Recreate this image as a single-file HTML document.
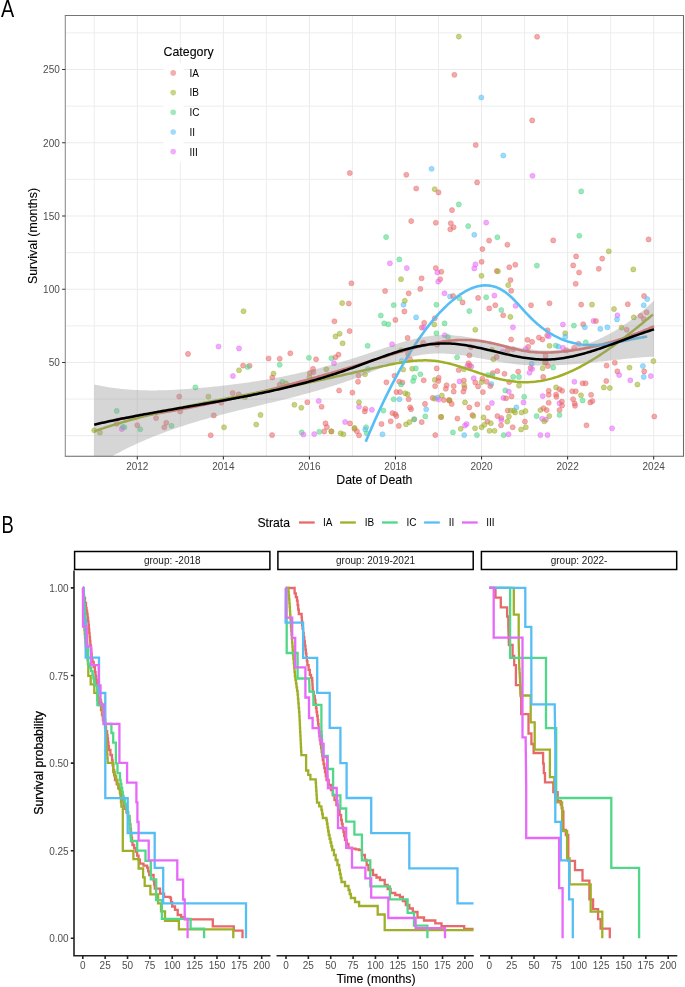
<!DOCTYPE html>
<html><head><meta charset="utf-8"><style>
html,body{margin:0;padding:0;background:#fff;overflow:hidden;width:685px;height:987px}
svg{display:block;will-change:transform}
.t{stroke:#000;stroke-width:0.1px}
.tr{stroke:#000;stroke-width:0.28px}
</style></head><body>
<svg width="685" height="987" viewBox="0 0 685 987" font-family="Liberation Sans, sans-serif"><rect width="685" height="987" fill="#fff"/><rect x="65.3" y="15.5" width="618.2" height="440.8" fill="#fff"/><path d="M94.27 15.5V456.3M180.33 15.5V456.3M266.39 15.5V456.3M352.45 15.5V456.3M438.51 15.5V456.3M524.57 15.5V456.3M610.63 15.5V456.3M65.3 399.06H683.5M65.3 325.84H683.5M65.3 252.61H683.5M65.3 179.38H683.5M65.3 106.15H683.5M65.3 32.92H683.5" stroke="#ededed" stroke-width="1" fill="none"/><path d="M137.30 15.5V456.3M223.36 15.5V456.3M309.42 15.5V456.3M395.48 15.5V456.3M481.54 15.5V456.3M567.60 15.5V456.3M653.66 15.5V456.3M65.3 435.68H683.5M65.3 362.45H683.5M65.3 289.22H683.5M65.3 215.99H683.5M65.3 142.76H683.5M65.3 69.53H683.5" stroke="#ebebeb" stroke-width="1" fill="none"/><rect x="163.5" y="63" width="20" height="99" fill="#fff"/><defs><clipPath id="cpA"><rect x="65.3" y="15.5" width="618.2" height="440.8"/></clipPath></defs><g clip-path="url(#cpA)"><circle cx="218.5" cy="346.5" r="2.55" fill="#E669FA" fill-opacity="0.57" stroke="#E669FA" stroke-opacity="0.57" stroke-width="0.7"/><circle cx="188.0" cy="353.9" r="2.55" fill="#E86969" fill-opacity="0.57" stroke="#E86969" stroke-opacity="0.57" stroke-width="0.7"/><circle cx="195.4" cy="387.4" r="2.55" fill="#50D787" fill-opacity="0.57" stroke="#50D787" stroke-opacity="0.57" stroke-width="0.7"/><circle cx="208.4" cy="396.6" r="2.55" fill="#A0AF28" fill-opacity="0.57" stroke="#A0AF28" stroke-opacity="0.57" stroke-width="0.7"/><circle cx="179.2" cy="396.6" r="2.55" fill="#E86969" fill-opacity="0.57" stroke="#E86969" stroke-opacity="0.57" stroke-width="0.7"/><circle cx="116.7" cy="410.9" r="2.55" fill="#50D787" fill-opacity="0.57" stroke="#50D787" stroke-opacity="0.57" stroke-width="0.7"/><circle cx="221.3" cy="402.7" r="2.55" fill="#E86969" fill-opacity="0.57" stroke="#E86969" stroke-opacity="0.57" stroke-width="0.7"/><circle cx="180.2" cy="411.5" r="2.55" fill="#E86969" fill-opacity="0.57" stroke="#E86969" stroke-opacity="0.57" stroke-width="0.7"/><circle cx="156.1" cy="418.1" r="2.55" fill="#E86969" fill-opacity="0.57" stroke="#E86969" stroke-opacity="0.57" stroke-width="0.7"/><circle cx="213.8" cy="415.4" r="2.55" fill="#E86969" fill-opacity="0.57" stroke="#E86969" stroke-opacity="0.57" stroke-width="0.7"/><circle cx="166.3" cy="422.8" r="2.55" fill="#E86969" fill-opacity="0.57" stroke="#E86969" stroke-opacity="0.57" stroke-width="0.7"/><circle cx="164.3" cy="427.3" r="2.55" fill="#E86969" fill-opacity="0.57" stroke="#E86969" stroke-opacity="0.57" stroke-width="0.7"/><circle cx="171.5" cy="425.8" r="2.55" fill="#50D787" fill-opacity="0.57" stroke="#50D787" stroke-opacity="0.57" stroke-width="0.7"/><circle cx="137.3" cy="425.2" r="2.55" fill="#E86969" fill-opacity="0.57" stroke="#E86969" stroke-opacity="0.57" stroke-width="0.7"/><circle cx="140.2" cy="429.3" r="2.55" fill="#50D787" fill-opacity="0.57" stroke="#50D787" stroke-opacity="0.57" stroke-width="0.7"/><circle cx="122.8" cy="426.9" r="2.55" fill="#50D787" fill-opacity="0.57" stroke="#50D787" stroke-opacity="0.57" stroke-width="0.7"/><circle cx="124.4" cy="427.3" r="2.55" fill="#50D787" fill-opacity="0.57" stroke="#50D787" stroke-opacity="0.57" stroke-width="0.7"/><circle cx="121.8" cy="429.1" r="2.55" fill="#E669FA" fill-opacity="0.57" stroke="#E669FA" stroke-opacity="0.57" stroke-width="0.7"/><circle cx="116.7" cy="423.8" r="2.55" fill="#E86969" fill-opacity="0.57" stroke="#E86969" stroke-opacity="0.57" stroke-width="0.7"/><circle cx="94.2" cy="430.3" r="2.55" fill="#A0AF28" fill-opacity="0.57" stroke="#A0AF28" stroke-opacity="0.57" stroke-width="0.7"/><circle cx="99.9" cy="432.6" r="2.55" fill="#A0AF28" fill-opacity="0.57" stroke="#A0AF28" stroke-opacity="0.57" stroke-width="0.7"/><circle cx="210.7" cy="435.2" r="2.55" fill="#E86969" fill-opacity="0.57" stroke="#E86969" stroke-opacity="0.57" stroke-width="0.7"/><circle cx="224.0" cy="427.3" r="2.55" fill="#A0AF28" fill-opacity="0.57" stroke="#A0AF28" stroke-opacity="0.57" stroke-width="0.7"/><circle cx="342.2" cy="303.1" r="2.55" fill="#A0AF28" fill-opacity="0.57" stroke="#A0AF28" stroke-opacity="0.57" stroke-width="0.7"/><circle cx="348.8" cy="303.5" r="2.55" fill="#E86969" fill-opacity="0.57" stroke="#E86969" stroke-opacity="0.57" stroke-width="0.7"/><circle cx="243.5" cy="311.2" r="2.55" fill="#A0AF28" fill-opacity="0.57" stroke="#A0AF28" stroke-opacity="0.57" stroke-width="0.7"/><circle cx="334.4" cy="321.3" r="2.55" fill="#E86969" fill-opacity="0.57" stroke="#E86969" stroke-opacity="0.57" stroke-width="0.7"/><circle cx="349.6" cy="331.1" r="2.55" fill="#E86969" fill-opacity="0.57" stroke="#E86969" stroke-opacity="0.57" stroke-width="0.7"/><circle cx="339.6" cy="333.7" r="2.55" fill="#A0AF28" fill-opacity="0.57" stroke="#A0AF28" stroke-opacity="0.57" stroke-width="0.7"/><circle cx="335.5" cy="336.4" r="2.55" fill="#A0AF28" fill-opacity="0.57" stroke="#A0AF28" stroke-opacity="0.57" stroke-width="0.7"/><circle cx="342.6" cy="343.3" r="2.55" fill="#A0AF28" fill-opacity="0.57" stroke="#A0AF28" stroke-opacity="0.57" stroke-width="0.7"/><circle cx="239.0" cy="348.4" r="2.55" fill="#E669FA" fill-opacity="0.57" stroke="#E669FA" stroke-opacity="0.57" stroke-width="0.7"/><circle cx="290.3" cy="353.3" r="2.55" fill="#E86969" fill-opacity="0.57" stroke="#E86969" stroke-opacity="0.57" stroke-width="0.7"/><circle cx="268.6" cy="358.5" r="2.55" fill="#E86969" fill-opacity="0.57" stroke="#E86969" stroke-opacity="0.57" stroke-width="0.7"/><circle cx="279.7" cy="358.7" r="2.55" fill="#E86969" fill-opacity="0.57" stroke="#E86969" stroke-opacity="0.57" stroke-width="0.7"/><circle cx="308.9" cy="357.8" r="2.55" fill="#50D787" fill-opacity="0.57" stroke="#50D787" stroke-opacity="0.57" stroke-width="0.7"/><circle cx="316.1" cy="359.3" r="2.55" fill="#E86969" fill-opacity="0.57" stroke="#E86969" stroke-opacity="0.57" stroke-width="0.7"/><circle cx="331.4" cy="358.2" r="2.55" fill="#50D787" fill-opacity="0.57" stroke="#50D787" stroke-opacity="0.57" stroke-width="0.7"/><circle cx="335.5" cy="357.2" r="2.55" fill="#E86969" fill-opacity="0.57" stroke="#E86969" stroke-opacity="0.57" stroke-width="0.7"/><circle cx="338.5" cy="354.6" r="2.55" fill="#E86969" fill-opacity="0.57" stroke="#E86969" stroke-opacity="0.57" stroke-width="0.7"/><circle cx="334.0" cy="363.2" r="2.55" fill="#E669FA" fill-opacity="0.57" stroke="#E669FA" stroke-opacity="0.57" stroke-width="0.7"/><circle cx="243.1" cy="365.6" r="2.55" fill="#E86969" fill-opacity="0.57" stroke="#E86969" stroke-opacity="0.57" stroke-width="0.7"/><circle cx="249.6" cy="365.8" r="2.55" fill="#E86969" fill-opacity="0.57" stroke="#E86969" stroke-opacity="0.57" stroke-width="0.7"/><circle cx="247.6" cy="367.0" r="2.55" fill="#50D787" fill-opacity="0.57" stroke="#50D787" stroke-opacity="0.57" stroke-width="0.7"/><circle cx="279.7" cy="364.8" r="2.55" fill="#50D787" fill-opacity="0.57" stroke="#50D787" stroke-opacity="0.57" stroke-width="0.7"/><circle cx="239.0" cy="370.3" r="2.55" fill="#A0AF28" fill-opacity="0.57" stroke="#A0AF28" stroke-opacity="0.57" stroke-width="0.7"/><circle cx="326.3" cy="369.3" r="2.55" fill="#A0AF28" fill-opacity="0.57" stroke="#A0AF28" stroke-opacity="0.57" stroke-width="0.7"/><circle cx="313.0" cy="368.9" r="2.55" fill="#E86969" fill-opacity="0.57" stroke="#E86969" stroke-opacity="0.57" stroke-width="0.7"/><circle cx="309.9" cy="373.0" r="2.55" fill="#E86969" fill-opacity="0.57" stroke="#E86969" stroke-opacity="0.57" stroke-width="0.7"/><circle cx="313.4" cy="372.1" r="2.55" fill="#E86969" fill-opacity="0.57" stroke="#E86969" stroke-opacity="0.57" stroke-width="0.7"/><circle cx="232.9" cy="376.0" r="2.55" fill="#E669FA" fill-opacity="0.57" stroke="#E669FA" stroke-opacity="0.57" stroke-width="0.7"/><circle cx="273.5" cy="373.6" r="2.55" fill="#A0AF28" fill-opacity="0.57" stroke="#A0AF28" stroke-opacity="0.57" stroke-width="0.7"/><circle cx="272.3" cy="377.5" r="2.55" fill="#E86969" fill-opacity="0.57" stroke="#E86969" stroke-opacity="0.57" stroke-width="0.7"/><circle cx="309.5" cy="377.0" r="2.55" fill="#A0AF28" fill-opacity="0.57" stroke="#A0AF28" stroke-opacity="0.57" stroke-width="0.7"/><circle cx="282.3" cy="381.7" r="2.55" fill="#50D787" fill-opacity="0.57" stroke="#50D787" stroke-opacity="0.57" stroke-width="0.7"/><circle cx="286.0" cy="383.4" r="2.55" fill="#A0AF28" fill-opacity="0.57" stroke="#A0AF28" stroke-opacity="0.57" stroke-width="0.7"/><circle cx="279.7" cy="384.8" r="2.55" fill="#E86969" fill-opacity="0.57" stroke="#E86969" stroke-opacity="0.57" stroke-width="0.7"/><circle cx="232.7" cy="393.0" r="2.55" fill="#E86969" fill-opacity="0.57" stroke="#E86969" stroke-opacity="0.57" stroke-width="0.7"/><circle cx="238.8" cy="394.4" r="2.55" fill="#E86969" fill-opacity="0.57" stroke="#E86969" stroke-opacity="0.57" stroke-width="0.7"/><circle cx="244.9" cy="397.3" r="2.55" fill="#A0AF28" fill-opacity="0.57" stroke="#A0AF28" stroke-opacity="0.57" stroke-width="0.7"/><circle cx="339.1" cy="390.5" r="2.55" fill="#E86969" fill-opacity="0.57" stroke="#E86969" stroke-opacity="0.57" stroke-width="0.7"/><circle cx="352.4" cy="392.6" r="2.55" fill="#E86969" fill-opacity="0.57" stroke="#E86969" stroke-opacity="0.57" stroke-width="0.7"/><circle cx="358.0" cy="381.7" r="2.55" fill="#E86969" fill-opacity="0.57" stroke="#E86969" stroke-opacity="0.57" stroke-width="0.7"/><circle cx="358.6" cy="375.6" r="2.55" fill="#E86969" fill-opacity="0.57" stroke="#E86969" stroke-opacity="0.57" stroke-width="0.7"/><circle cx="318.7" cy="401.0" r="2.55" fill="#E669FA" fill-opacity="0.57" stroke="#E669FA" stroke-opacity="0.57" stroke-width="0.7"/><circle cx="307.3" cy="402.2" r="2.55" fill="#E86969" fill-opacity="0.57" stroke="#E86969" stroke-opacity="0.57" stroke-width="0.7"/><circle cx="321.6" cy="406.7" r="2.55" fill="#E86969" fill-opacity="0.57" stroke="#E86969" stroke-opacity="0.57" stroke-width="0.7"/><circle cx="294.4" cy="404.8" r="2.55" fill="#A0AF28" fill-opacity="0.57" stroke="#A0AF28" stroke-opacity="0.57" stroke-width="0.7"/><circle cx="301.3" cy="407.7" r="2.55" fill="#A0AF28" fill-opacity="0.57" stroke="#A0AF28" stroke-opacity="0.57" stroke-width="0.7"/><circle cx="359.0" cy="406.7" r="2.55" fill="#E669FA" fill-opacity="0.57" stroke="#E669FA" stroke-opacity="0.57" stroke-width="0.7"/><circle cx="359.0" cy="402.2" r="2.55" fill="#A0AF28" fill-opacity="0.57" stroke="#A0AF28" stroke-opacity="0.57" stroke-width="0.7"/><circle cx="260.5" cy="414.9" r="2.55" fill="#A0AF28" fill-opacity="0.57" stroke="#A0AF28" stroke-opacity="0.57" stroke-width="0.7"/><circle cx="256.2" cy="424.5" r="2.55" fill="#A0AF28" fill-opacity="0.57" stroke="#A0AF28" stroke-opacity="0.57" stroke-width="0.7"/><circle cx="325.5" cy="423.4" r="2.55" fill="#E86969" fill-opacity="0.57" stroke="#E86969" stroke-opacity="0.57" stroke-width="0.7"/><circle cx="326.9" cy="427.1" r="2.55" fill="#E86969" fill-opacity="0.57" stroke="#E86969" stroke-opacity="0.57" stroke-width="0.7"/><circle cx="345.1" cy="422.0" r="2.55" fill="#E669FA" fill-opacity="0.57" stroke="#E669FA" stroke-opacity="0.57" stroke-width="0.7"/><circle cx="350.0" cy="423.4" r="2.55" fill="#E86969" fill-opacity="0.57" stroke="#E86969" stroke-opacity="0.57" stroke-width="0.7"/><circle cx="354.5" cy="428.8" r="2.55" fill="#E86969" fill-opacity="0.57" stroke="#E86969" stroke-opacity="0.57" stroke-width="0.7"/><circle cx="356.9" cy="431.2" r="2.55" fill="#E86969" fill-opacity="0.57" stroke="#E86969" stroke-opacity="0.57" stroke-width="0.7"/><circle cx="354.5" cy="427.9" r="2.55" fill="#A0AF28" fill-opacity="0.57" stroke="#A0AF28" stroke-opacity="0.57" stroke-width="0.7"/><circle cx="324.2" cy="431.4" r="2.55" fill="#E86969" fill-opacity="0.57" stroke="#E86969" stroke-opacity="0.57" stroke-width="0.7"/><circle cx="331.4" cy="431.4" r="2.55" fill="#E86969" fill-opacity="0.57" stroke="#E86969" stroke-opacity="0.57" stroke-width="0.7"/><circle cx="331.4" cy="431.4" r="2.55" fill="#A0AF28" fill-opacity="0.57" stroke="#A0AF28" stroke-opacity="0.57" stroke-width="0.7"/><circle cx="301.7" cy="432.4" r="2.55" fill="#50D787" fill-opacity="0.57" stroke="#50D787" stroke-opacity="0.57" stroke-width="0.7"/><circle cx="303.4" cy="434.5" r="2.55" fill="#E669FA" fill-opacity="0.57" stroke="#E669FA" stroke-opacity="0.57" stroke-width="0.7"/><circle cx="314.2" cy="434.1" r="2.55" fill="#E669FA" fill-opacity="0.57" stroke="#E669FA" stroke-opacity="0.57" stroke-width="0.7"/><circle cx="319.3" cy="431.8" r="2.55" fill="#50D787" fill-opacity="0.57" stroke="#50D787" stroke-opacity="0.57" stroke-width="0.7"/><circle cx="340.6" cy="433.3" r="2.55" fill="#A0AF28" fill-opacity="0.57" stroke="#A0AF28" stroke-opacity="0.57" stroke-width="0.7"/><circle cx="343.4" cy="434.3" r="2.55" fill="#A0AF28" fill-opacity="0.57" stroke="#A0AF28" stroke-opacity="0.57" stroke-width="0.7"/><circle cx="272.1" cy="435.1" r="2.55" fill="#E86969" fill-opacity="0.57" stroke="#E86969" stroke-opacity="0.57" stroke-width="0.7"/><circle cx="359.0" cy="435.3" r="2.55" fill="#E86969" fill-opacity="0.57" stroke="#E86969" stroke-opacity="0.57" stroke-width="0.7"/><circle cx="393.7" cy="305.1" r="2.55" fill="#50D787" fill-opacity="0.57" stroke="#50D787" stroke-opacity="0.57" stroke-width="0.7"/><circle cx="403.5" cy="304.7" r="2.55" fill="#55BEF5" fill-opacity="0.57" stroke="#55BEF5" stroke-opacity="0.57" stroke-width="0.7"/><circle cx="404.8" cy="300.8" r="2.55" fill="#A0AF28" fill-opacity="0.57" stroke="#A0AF28" stroke-opacity="0.57" stroke-width="0.7"/><circle cx="404.4" cy="311.4" r="2.55" fill="#E86969" fill-opacity="0.57" stroke="#E86969" stroke-opacity="0.57" stroke-width="0.7"/><circle cx="436.4" cy="304.7" r="2.55" fill="#50D787" fill-opacity="0.57" stroke="#50D787" stroke-opacity="0.57" stroke-width="0.7"/><circle cx="380.8" cy="315.5" r="2.55" fill="#50D787" fill-opacity="0.57" stroke="#50D787" stroke-opacity="0.57" stroke-width="0.7"/><circle cx="416.1" cy="317.4" r="2.55" fill="#55BEF5" fill-opacity="0.57" stroke="#55BEF5" stroke-opacity="0.57" stroke-width="0.7"/><circle cx="434.8" cy="318.2" r="2.55" fill="#E86969" fill-opacity="0.57" stroke="#E86969" stroke-opacity="0.57" stroke-width="0.7"/><circle cx="395.4" cy="319.9" r="2.55" fill="#E86969" fill-opacity="0.57" stroke="#E86969" stroke-opacity="0.57" stroke-width="0.7"/><circle cx="384.2" cy="323.4" r="2.55" fill="#50D787" fill-opacity="0.57" stroke="#50D787" stroke-opacity="0.57" stroke-width="0.7"/><circle cx="388.3" cy="324.2" r="2.55" fill="#50D787" fill-opacity="0.57" stroke="#50D787" stroke-opacity="0.57" stroke-width="0.7"/><circle cx="424.2" cy="322.9" r="2.55" fill="#E86969" fill-opacity="0.57" stroke="#E86969" stroke-opacity="0.57" stroke-width="0.7"/><circle cx="444.6" cy="323.4" r="2.55" fill="#50D787" fill-opacity="0.57" stroke="#50D787" stroke-opacity="0.57" stroke-width="0.7"/><circle cx="421.8" cy="327.6" r="2.55" fill="#E86969" fill-opacity="0.57" stroke="#E86969" stroke-opacity="0.57" stroke-width="0.7"/><circle cx="424.0" cy="327.6" r="2.55" fill="#E669FA" fill-opacity="0.57" stroke="#E669FA" stroke-opacity="0.57" stroke-width="0.7"/><circle cx="434.3" cy="324.5" r="2.55" fill="#A0AF28" fill-opacity="0.57" stroke="#A0AF28" stroke-opacity="0.57" stroke-width="0.7"/><circle cx="436.4" cy="333.2" r="2.55" fill="#50D787" fill-opacity="0.57" stroke="#50D787" stroke-opacity="0.57" stroke-width="0.7"/><circle cx="444.7" cy="335.2" r="2.55" fill="#E669FA" fill-opacity="0.57" stroke="#E669FA" stroke-opacity="0.57" stroke-width="0.7"/><circle cx="447.9" cy="336.8" r="2.55" fill="#50D787" fill-opacity="0.57" stroke="#50D787" stroke-opacity="0.57" stroke-width="0.7"/><circle cx="407.6" cy="337.9" r="2.55" fill="#E86969" fill-opacity="0.57" stroke="#E86969" stroke-opacity="0.57" stroke-width="0.7"/><circle cx="367.6" cy="345.8" r="2.55" fill="#50D787" fill-opacity="0.57" stroke="#50D787" stroke-opacity="0.57" stroke-width="0.7"/><circle cx="392.1" cy="344.2" r="2.55" fill="#E669FA" fill-opacity="0.57" stroke="#E669FA" stroke-opacity="0.57" stroke-width="0.7"/><circle cx="423.2" cy="342.7" r="2.55" fill="#E86969" fill-opacity="0.57" stroke="#E86969" stroke-opacity="0.57" stroke-width="0.7"/><circle cx="437.1" cy="344.7" r="2.55" fill="#E86969" fill-opacity="0.57" stroke="#E86969" stroke-opacity="0.57" stroke-width="0.7"/><circle cx="401.1" cy="350.2" r="2.55" fill="#A0AF28" fill-opacity="0.57" stroke="#A0AF28" stroke-opacity="0.57" stroke-width="0.7"/><circle cx="407.9" cy="353.7" r="2.55" fill="#E86969" fill-opacity="0.57" stroke="#E86969" stroke-opacity="0.57" stroke-width="0.7"/><circle cx="410.0" cy="359.2" r="2.55" fill="#E86969" fill-opacity="0.57" stroke="#E86969" stroke-opacity="0.57" stroke-width="0.7"/><circle cx="401.8" cy="361.1" r="2.55" fill="#55BEF5" fill-opacity="0.57" stroke="#55BEF5" stroke-opacity="0.57" stroke-width="0.7"/><circle cx="368.0" cy="369.0" r="2.55" fill="#50D787" fill-opacity="0.57" stroke="#50D787" stroke-opacity="0.57" stroke-width="0.7"/><circle cx="365.0" cy="374.2" r="2.55" fill="#A0AF28" fill-opacity="0.57" stroke="#A0AF28" stroke-opacity="0.57" stroke-width="0.7"/><circle cx="403.2" cy="369.5" r="2.55" fill="#A0AF28" fill-opacity="0.57" stroke="#A0AF28" stroke-opacity="0.57" stroke-width="0.7"/><circle cx="412.2" cy="368.7" r="2.55" fill="#A0AF28" fill-opacity="0.57" stroke="#A0AF28" stroke-opacity="0.57" stroke-width="0.7"/><circle cx="415.8" cy="368.4" r="2.55" fill="#50D787" fill-opacity="0.57" stroke="#50D787" stroke-opacity="0.57" stroke-width="0.7"/><circle cx="420.4" cy="374.2" r="2.55" fill="#50D787" fill-opacity="0.57" stroke="#50D787" stroke-opacity="0.57" stroke-width="0.7"/><circle cx="436.7" cy="368.4" r="2.55" fill="#E86969" fill-opacity="0.57" stroke="#E86969" stroke-opacity="0.57" stroke-width="0.7"/><circle cx="414.2" cy="377.4" r="2.55" fill="#50D787" fill-opacity="0.57" stroke="#50D787" stroke-opacity="0.57" stroke-width="0.7"/><circle cx="413.1" cy="381.0" r="2.55" fill="#50D787" fill-opacity="0.57" stroke="#50D787" stroke-opacity="0.57" stroke-width="0.7"/><circle cx="394.5" cy="375.8" r="2.55" fill="#E86969" fill-opacity="0.57" stroke="#E86969" stroke-opacity="0.57" stroke-width="0.7"/><circle cx="386.4" cy="382.3" r="2.55" fill="#E86969" fill-opacity="0.57" stroke="#E86969" stroke-opacity="0.57" stroke-width="0.7"/><circle cx="399.2" cy="381.7" r="2.55" fill="#E86969" fill-opacity="0.57" stroke="#E86969" stroke-opacity="0.57" stroke-width="0.7"/><circle cx="402.4" cy="382.5" r="2.55" fill="#E86969" fill-opacity="0.57" stroke="#E86969" stroke-opacity="0.57" stroke-width="0.7"/><circle cx="401.1" cy="384.5" r="2.55" fill="#50D787" fill-opacity="0.57" stroke="#50D787" stroke-opacity="0.57" stroke-width="0.7"/><circle cx="423.7" cy="380.3" r="2.55" fill="#E86969" fill-opacity="0.57" stroke="#E86969" stroke-opacity="0.57" stroke-width="0.7"/><circle cx="434.8" cy="379.8" r="2.55" fill="#A0AF28" fill-opacity="0.57" stroke="#A0AF28" stroke-opacity="0.57" stroke-width="0.7"/><circle cx="438.7" cy="377.7" r="2.55" fill="#E86969" fill-opacity="0.57" stroke="#E86969" stroke-opacity="0.57" stroke-width="0.7"/><circle cx="438.3" cy="381.0" r="2.55" fill="#E86969" fill-opacity="0.57" stroke="#E86969" stroke-opacity="0.57" stroke-width="0.7"/><circle cx="435.1" cy="386.1" r="2.55" fill="#E86969" fill-opacity="0.57" stroke="#E86969" stroke-opacity="0.57" stroke-width="0.7"/><circle cx="446.6" cy="385.3" r="2.55" fill="#E86969" fill-opacity="0.57" stroke="#E86969" stroke-opacity="0.57" stroke-width="0.7"/><circle cx="445.8" cy="388.8" r="2.55" fill="#E86969" fill-opacity="0.57" stroke="#E86969" stroke-opacity="0.57" stroke-width="0.7"/><circle cx="453.7" cy="386.1" r="2.55" fill="#E86969" fill-opacity="0.57" stroke="#E86969" stroke-opacity="0.57" stroke-width="0.7"/><circle cx="453.7" cy="391.6" r="2.55" fill="#E86969" fill-opacity="0.57" stroke="#E86969" stroke-opacity="0.57" stroke-width="0.7"/><circle cx="396.4" cy="392.1" r="2.55" fill="#E86969" fill-opacity="0.57" stroke="#E86969" stroke-opacity="0.57" stroke-width="0.7"/><circle cx="400.0" cy="392.1" r="2.55" fill="#E86969" fill-opacity="0.57" stroke="#E86969" stroke-opacity="0.57" stroke-width="0.7"/><circle cx="405.2" cy="393.2" r="2.55" fill="#A0AF28" fill-opacity="0.57" stroke="#A0AF28" stroke-opacity="0.57" stroke-width="0.7"/><circle cx="407.6" cy="394.3" r="2.55" fill="#A0AF28" fill-opacity="0.57" stroke="#A0AF28" stroke-opacity="0.57" stroke-width="0.7"/><circle cx="393.7" cy="399.2" r="2.55" fill="#50D787" fill-opacity="0.57" stroke="#50D787" stroke-opacity="0.57" stroke-width="0.7"/><circle cx="399.4" cy="399.2" r="2.55" fill="#55BEF5" fill-opacity="0.57" stroke="#55BEF5" stroke-opacity="0.57" stroke-width="0.7"/><circle cx="408.7" cy="399.2" r="2.55" fill="#E86969" fill-opacity="0.57" stroke="#E86969" stroke-opacity="0.57" stroke-width="0.7"/><circle cx="432.7" cy="397.9" r="2.55" fill="#E86969" fill-opacity="0.57" stroke="#E86969" stroke-opacity="0.57" stroke-width="0.7"/><circle cx="434.8" cy="398.7" r="2.55" fill="#A0AF28" fill-opacity="0.57" stroke="#A0AF28" stroke-opacity="0.57" stroke-width="0.7"/><circle cx="437.5" cy="397.6" r="2.55" fill="#55BEF5" fill-opacity="0.57" stroke="#55BEF5" stroke-opacity="0.57" stroke-width="0.7"/><circle cx="438.7" cy="399.5" r="2.55" fill="#E669FA" fill-opacity="0.57" stroke="#E669FA" stroke-opacity="0.57" stroke-width="0.7"/><circle cx="441.9" cy="395.6" r="2.55" fill="#A0AF28" fill-opacity="0.57" stroke="#A0AF28" stroke-opacity="0.57" stroke-width="0.7"/><circle cx="443.9" cy="400.0" r="2.55" fill="#E86969" fill-opacity="0.57" stroke="#E86969" stroke-opacity="0.57" stroke-width="0.7"/><circle cx="449.0" cy="400.0" r="2.55" fill="#E86969" fill-opacity="0.57" stroke="#E86969" stroke-opacity="0.57" stroke-width="0.7"/><circle cx="449.5" cy="400.5" r="2.55" fill="#E86969" fill-opacity="0.57" stroke="#E86969" stroke-opacity="0.57" stroke-width="0.7"/><circle cx="449.5" cy="400.5" r="2.55" fill="#A0AF28" fill-opacity="0.57" stroke="#A0AF28" stroke-opacity="0.57" stroke-width="0.7"/><circle cx="451.7" cy="403.9" r="2.55" fill="#E86969" fill-opacity="0.57" stroke="#E86969" stroke-opacity="0.57" stroke-width="0.7"/><circle cx="365.3" cy="408.7" r="2.55" fill="#E86969" fill-opacity="0.57" stroke="#E86969" stroke-opacity="0.57" stroke-width="0.7"/><circle cx="364.8" cy="411.4" r="2.55" fill="#E86969" fill-opacity="0.57" stroke="#E86969" stroke-opacity="0.57" stroke-width="0.7"/><circle cx="371.9" cy="409.8" r="2.55" fill="#E669FA" fill-opacity="0.57" stroke="#E669FA" stroke-opacity="0.57" stroke-width="0.7"/><circle cx="425.0" cy="403.9" r="2.55" fill="#E86969" fill-opacity="0.57" stroke="#E86969" stroke-opacity="0.57" stroke-width="0.7"/><circle cx="410.1" cy="407.4" r="2.55" fill="#E86969" fill-opacity="0.57" stroke="#E86969" stroke-opacity="0.57" stroke-width="0.7"/><circle cx="411.1" cy="409.3" r="2.55" fill="#E86969" fill-opacity="0.57" stroke="#E86969" stroke-opacity="0.57" stroke-width="0.7"/><circle cx="426.2" cy="409.3" r="2.55" fill="#55BEF5" fill-opacity="0.57" stroke="#55BEF5" stroke-opacity="0.57" stroke-width="0.7"/><circle cx="383.4" cy="410.6" r="2.55" fill="#50D787" fill-opacity="0.57" stroke="#50D787" stroke-opacity="0.57" stroke-width="0.7"/><circle cx="392.4" cy="413.1" r="2.55" fill="#E86969" fill-opacity="0.57" stroke="#E86969" stroke-opacity="0.57" stroke-width="0.7"/><circle cx="395.3" cy="414.1" r="2.55" fill="#E86969" fill-opacity="0.57" stroke="#E86969" stroke-opacity="0.57" stroke-width="0.7"/><circle cx="396.4" cy="416.1" r="2.55" fill="#E86969" fill-opacity="0.57" stroke="#E86969" stroke-opacity="0.57" stroke-width="0.7"/><circle cx="390.7" cy="421.3" r="2.55" fill="#E86969" fill-opacity="0.57" stroke="#E86969" stroke-opacity="0.57" stroke-width="0.7"/><circle cx="425.3" cy="416.4" r="2.55" fill="#50D787" fill-opacity="0.57" stroke="#50D787" stroke-opacity="0.57" stroke-width="0.7"/><circle cx="441.1" cy="416.9" r="2.55" fill="#E86969" fill-opacity="0.57" stroke="#E86969" stroke-opacity="0.57" stroke-width="0.7"/><circle cx="441.1" cy="416.9" r="2.55" fill="#A0AF28" fill-opacity="0.57" stroke="#A0AF28" stroke-opacity="0.57" stroke-width="0.7"/><circle cx="381.5" cy="424.0" r="2.55" fill="#E86969" fill-opacity="0.57" stroke="#E86969" stroke-opacity="0.57" stroke-width="0.7"/><circle cx="398.8" cy="425.9" r="2.55" fill="#E86969" fill-opacity="0.57" stroke="#E86969" stroke-opacity="0.57" stroke-width="0.7"/><circle cx="406.0" cy="424.3" r="2.55" fill="#A0AF28" fill-opacity="0.57" stroke="#A0AF28" stroke-opacity="0.57" stroke-width="0.7"/><circle cx="409.5" cy="422.1" r="2.55" fill="#A0AF28" fill-opacity="0.57" stroke="#A0AF28" stroke-opacity="0.57" stroke-width="0.7"/><circle cx="414.2" cy="419.3" r="2.55" fill="#E86969" fill-opacity="0.57" stroke="#E86969" stroke-opacity="0.57" stroke-width="0.7"/><circle cx="414.2" cy="419.3" r="2.55" fill="#50D787" fill-opacity="0.57" stroke="#50D787" stroke-opacity="0.57" stroke-width="0.7"/><circle cx="421.7" cy="422.1" r="2.55" fill="#E86969" fill-opacity="0.57" stroke="#E86969" stroke-opacity="0.57" stroke-width="0.7"/><circle cx="366.1" cy="427.2" r="2.55" fill="#50D787" fill-opacity="0.57" stroke="#50D787" stroke-opacity="0.57" stroke-width="0.7"/><circle cx="365.3" cy="429.5" r="2.55" fill="#55BEF5" fill-opacity="0.57" stroke="#55BEF5" stroke-opacity="0.57" stroke-width="0.7"/><circle cx="366.8" cy="433.2" r="2.55" fill="#50D787" fill-opacity="0.57" stroke="#50D787" stroke-opacity="0.57" stroke-width="0.7"/><circle cx="382.5" cy="434.3" r="2.55" fill="#55BEF5" fill-opacity="0.57" stroke="#55BEF5" stroke-opacity="0.57" stroke-width="0.7"/><circle cx="435.3" cy="435.1" r="2.55" fill="#E86969" fill-opacity="0.57" stroke="#E86969" stroke-opacity="0.57" stroke-width="0.7"/><circle cx="452.9" cy="432.4" r="2.55" fill="#50D787" fill-opacity="0.57" stroke="#50D787" stroke-opacity="0.57" stroke-width="0.7"/><circle cx="462.6" cy="302.4" r="2.55" fill="#E86969" fill-opacity="0.57" stroke="#E86969" stroke-opacity="0.57" stroke-width="0.7"/><circle cx="469.3" cy="311.1" r="2.55" fill="#50D787" fill-opacity="0.57" stroke="#50D787" stroke-opacity="0.57" stroke-width="0.7"/><circle cx="489.2" cy="308.4" r="2.55" fill="#E86969" fill-opacity="0.57" stroke="#E86969" stroke-opacity="0.57" stroke-width="0.7"/><circle cx="495.3" cy="305.2" r="2.55" fill="#E86969" fill-opacity="0.57" stroke="#E86969" stroke-opacity="0.57" stroke-width="0.7"/><circle cx="501.3" cy="310.0" r="2.55" fill="#50D787" fill-opacity="0.57" stroke="#50D787" stroke-opacity="0.57" stroke-width="0.7"/><circle cx="503.2" cy="315.3" r="2.55" fill="#E86969" fill-opacity="0.57" stroke="#E86969" stroke-opacity="0.57" stroke-width="0.7"/><circle cx="510.3" cy="316.9" r="2.55" fill="#A0AF28" fill-opacity="0.57" stroke="#A0AF28" stroke-opacity="0.57" stroke-width="0.7"/><circle cx="515.6" cy="305.8" r="2.55" fill="#E669FA" fill-opacity="0.57" stroke="#E669FA" stroke-opacity="0.57" stroke-width="0.7"/><circle cx="531.0" cy="305.2" r="2.55" fill="#E86969" fill-opacity="0.57" stroke="#E86969" stroke-opacity="0.57" stroke-width="0.7"/><circle cx="475.3" cy="329.7" r="2.55" fill="#A0AF28" fill-opacity="0.57" stroke="#A0AF28" stroke-opacity="0.57" stroke-width="0.7"/><circle cx="512.9" cy="327.3" r="2.55" fill="#E669FA" fill-opacity="0.57" stroke="#E669FA" stroke-opacity="0.57" stroke-width="0.7"/><circle cx="511.1" cy="339.5" r="2.55" fill="#E86969" fill-opacity="0.57" stroke="#E86969" stroke-opacity="0.57" stroke-width="0.7"/><circle cx="527.4" cy="339.8" r="2.55" fill="#E86969" fill-opacity="0.57" stroke="#E86969" stroke-opacity="0.57" stroke-width="0.7"/><circle cx="532.1" cy="341.9" r="2.55" fill="#E86969" fill-opacity="0.57" stroke="#E86969" stroke-opacity="0.57" stroke-width="0.7"/><circle cx="538.9" cy="337.6" r="2.55" fill="#E86969" fill-opacity="0.57" stroke="#E86969" stroke-opacity="0.57" stroke-width="0.7"/><circle cx="542.4" cy="339.5" r="2.55" fill="#E86969" fill-opacity="0.57" stroke="#E86969" stroke-opacity="0.57" stroke-width="0.7"/><circle cx="547.6" cy="330.3" r="2.55" fill="#E86969" fill-opacity="0.57" stroke="#E86969" stroke-opacity="0.57" stroke-width="0.7"/><circle cx="547.2" cy="335.5" r="2.55" fill="#E86969" fill-opacity="0.57" stroke="#E86969" stroke-opacity="0.57" stroke-width="0.7"/><circle cx="548.7" cy="336.3" r="2.55" fill="#E669FA" fill-opacity="0.57" stroke="#E669FA" stroke-opacity="0.57" stroke-width="0.7"/><circle cx="528.2" cy="346.9" r="2.55" fill="#E86969" fill-opacity="0.57" stroke="#E86969" stroke-opacity="0.57" stroke-width="0.7"/><circle cx="471.0" cy="347.1" r="2.55" fill="#E86969" fill-opacity="0.57" stroke="#E86969" stroke-opacity="0.57" stroke-width="0.7"/><circle cx="469.4" cy="355.3" r="2.55" fill="#E86969" fill-opacity="0.57" stroke="#E86969" stroke-opacity="0.57" stroke-width="0.7"/><circle cx="457.1" cy="357.3" r="2.55" fill="#50D787" fill-opacity="0.57" stroke="#50D787" stroke-opacity="0.57" stroke-width="0.7"/><circle cx="491.9" cy="349.8" r="2.55" fill="#A0AF28" fill-opacity="0.57" stroke="#A0AF28" stroke-opacity="0.57" stroke-width="0.7"/><circle cx="502.6" cy="351.7" r="2.55" fill="#E669FA" fill-opacity="0.57" stroke="#E669FA" stroke-opacity="0.57" stroke-width="0.7"/><circle cx="507.7" cy="350.2" r="2.55" fill="#E86969" fill-opacity="0.57" stroke="#E86969" stroke-opacity="0.57" stroke-width="0.7"/><circle cx="513.2" cy="349.3" r="2.55" fill="#E86969" fill-opacity="0.57" stroke="#E86969" stroke-opacity="0.57" stroke-width="0.7"/><circle cx="525.8" cy="349.0" r="2.55" fill="#E669FA" fill-opacity="0.57" stroke="#E669FA" stroke-opacity="0.57" stroke-width="0.7"/><circle cx="493.4" cy="359.2" r="2.55" fill="#A0AF28" fill-opacity="0.57" stroke="#A0AF28" stroke-opacity="0.57" stroke-width="0.7"/><circle cx="496.6" cy="356.9" r="2.55" fill="#E86969" fill-opacity="0.57" stroke="#E86969" stroke-opacity="0.57" stroke-width="0.7"/><circle cx="545.6" cy="355.8" r="2.55" fill="#E86969" fill-opacity="0.57" stroke="#E86969" stroke-opacity="0.57" stroke-width="0.7"/><circle cx="549.5" cy="345.8" r="2.55" fill="#A0AF28" fill-opacity="0.57" stroke="#A0AF28" stroke-opacity="0.57" stroke-width="0.7"/><circle cx="468.5" cy="363.2" r="2.55" fill="#E86969" fill-opacity="0.57" stroke="#E86969" stroke-opacity="0.57" stroke-width="0.7"/><circle cx="467.4" cy="365.9" r="2.55" fill="#E669FA" fill-opacity="0.57" stroke="#E669FA" stroke-opacity="0.57" stroke-width="0.7"/><circle cx="471.3" cy="366.4" r="2.55" fill="#E669FA" fill-opacity="0.57" stroke="#E669FA" stroke-opacity="0.57" stroke-width="0.7"/><circle cx="458.7" cy="370.0" r="2.55" fill="#E86969" fill-opacity="0.57" stroke="#E86969" stroke-opacity="0.57" stroke-width="0.7"/><circle cx="463.9" cy="369.2" r="2.55" fill="#A0AF28" fill-opacity="0.57" stroke="#A0AF28" stroke-opacity="0.57" stroke-width="0.7"/><circle cx="469.7" cy="365.6" r="2.55" fill="#E86969" fill-opacity="0.57" stroke="#E86969" stroke-opacity="0.57" stroke-width="0.7"/><circle cx="531.7" cy="363.5" r="2.55" fill="#55BEF5" fill-opacity="0.57" stroke="#55BEF5" stroke-opacity="0.57" stroke-width="0.7"/><circle cx="530.6" cy="367.9" r="2.55" fill="#E86969" fill-opacity="0.57" stroke="#E86969" stroke-opacity="0.57" stroke-width="0.7"/><circle cx="532.1" cy="369.0" r="2.55" fill="#E669FA" fill-opacity="0.57" stroke="#E669FA" stroke-opacity="0.57" stroke-width="0.7"/><circle cx="544.8" cy="362.4" r="2.55" fill="#A0AF28" fill-opacity="0.57" stroke="#A0AF28" stroke-opacity="0.57" stroke-width="0.7"/><circle cx="542.7" cy="368.2" r="2.55" fill="#A0AF28" fill-opacity="0.57" stroke="#A0AF28" stroke-opacity="0.57" stroke-width="0.7"/><circle cx="547.9" cy="366.0" r="2.55" fill="#E86969" fill-opacity="0.57" stroke="#E86969" stroke-opacity="0.57" stroke-width="0.7"/><circle cx="529.5" cy="372.7" r="2.55" fill="#E669FA" fill-opacity="0.57" stroke="#E669FA" stroke-opacity="0.57" stroke-width="0.7"/><circle cx="497.4" cy="371.1" r="2.55" fill="#E86969" fill-opacity="0.57" stroke="#E86969" stroke-opacity="0.57" stroke-width="0.7"/><circle cx="492.7" cy="373.1" r="2.55" fill="#E86969" fill-opacity="0.57" stroke="#E86969" stroke-opacity="0.57" stroke-width="0.7"/><circle cx="487.9" cy="375.0" r="2.55" fill="#50D787" fill-opacity="0.57" stroke="#50D787" stroke-opacity="0.57" stroke-width="0.7"/><circle cx="492.3" cy="375.5" r="2.55" fill="#50D787" fill-opacity="0.57" stroke="#50D787" stroke-opacity="0.57" stroke-width="0.7"/><circle cx="504.5" cy="373.8" r="2.55" fill="#E86969" fill-opacity="0.57" stroke="#E86969" stroke-opacity="0.57" stroke-width="0.7"/><circle cx="518.2" cy="371.6" r="2.55" fill="#E86969" fill-opacity="0.57" stroke="#E86969" stroke-opacity="0.57" stroke-width="0.7"/><circle cx="513.2" cy="376.9" r="2.55" fill="#50D787" fill-opacity="0.57" stroke="#50D787" stroke-opacity="0.57" stroke-width="0.7"/><circle cx="519.0" cy="376.9" r="2.55" fill="#50D787" fill-opacity="0.57" stroke="#50D787" stroke-opacity="0.57" stroke-width="0.7"/><circle cx="543.2" cy="376.9" r="2.55" fill="#E86969" fill-opacity="0.57" stroke="#E86969" stroke-opacity="0.57" stroke-width="0.7"/><circle cx="459.5" cy="381.4" r="2.55" fill="#E669FA" fill-opacity="0.57" stroke="#E669FA" stroke-opacity="0.57" stroke-width="0.7"/><circle cx="463.9" cy="380.6" r="2.55" fill="#E86969" fill-opacity="0.57" stroke="#E86969" stroke-opacity="0.57" stroke-width="0.7"/><circle cx="473.7" cy="378.2" r="2.55" fill="#E669FA" fill-opacity="0.57" stroke="#E669FA" stroke-opacity="0.57" stroke-width="0.7"/><circle cx="475.3" cy="382.5" r="2.55" fill="#E86969" fill-opacity="0.57" stroke="#E86969" stroke-opacity="0.57" stroke-width="0.7"/><circle cx="482.4" cy="378.7" r="2.55" fill="#E86969" fill-opacity="0.57" stroke="#E86969" stroke-opacity="0.57" stroke-width="0.7"/><circle cx="481.6" cy="382.1" r="2.55" fill="#A0AF28" fill-opacity="0.57" stroke="#A0AF28" stroke-opacity="0.57" stroke-width="0.7"/><circle cx="486.7" cy="381.8" r="2.55" fill="#E86969" fill-opacity="0.57" stroke="#E86969" stroke-opacity="0.57" stroke-width="0.7"/><circle cx="478.1" cy="386.4" r="2.55" fill="#E86969" fill-opacity="0.57" stroke="#E86969" stroke-opacity="0.57" stroke-width="0.7"/><circle cx="464.2" cy="385.3" r="2.55" fill="#A0AF28" fill-opacity="0.57" stroke="#A0AF28" stroke-opacity="0.57" stroke-width="0.7"/><circle cx="464.5" cy="388.0" r="2.55" fill="#E86969" fill-opacity="0.57" stroke="#E86969" stroke-opacity="0.57" stroke-width="0.7"/><circle cx="463.4" cy="391.6" r="2.55" fill="#E86969" fill-opacity="0.57" stroke="#E86969" stroke-opacity="0.57" stroke-width="0.7"/><circle cx="482.9" cy="392.1" r="2.55" fill="#E86969" fill-opacity="0.57" stroke="#E86969" stroke-opacity="0.57" stroke-width="0.7"/><circle cx="491.4" cy="384.0" r="2.55" fill="#55BEF5" fill-opacity="0.57" stroke="#55BEF5" stroke-opacity="0.57" stroke-width="0.7"/><circle cx="490.3" cy="386.1" r="2.55" fill="#E86969" fill-opacity="0.57" stroke="#E86969" stroke-opacity="0.57" stroke-width="0.7"/><circle cx="509.2" cy="382.1" r="2.55" fill="#E86969" fill-opacity="0.57" stroke="#E86969" stroke-opacity="0.57" stroke-width="0.7"/><circle cx="519.0" cy="385.6" r="2.55" fill="#A0AF28" fill-opacity="0.57" stroke="#A0AF28" stroke-opacity="0.57" stroke-width="0.7"/><circle cx="505.3" cy="390.4" r="2.55" fill="#50D787" fill-opacity="0.57" stroke="#50D787" stroke-opacity="0.57" stroke-width="0.7"/><circle cx="508.8" cy="391.6" r="2.55" fill="#E669FA" fill-opacity="0.57" stroke="#E669FA" stroke-opacity="0.57" stroke-width="0.7"/><circle cx="503.4" cy="397.9" r="2.55" fill="#E669FA" fill-opacity="0.57" stroke="#E669FA" stroke-opacity="0.57" stroke-width="0.7"/><circle cx="506.1" cy="398.3" r="2.55" fill="#E86969" fill-opacity="0.57" stroke="#E86969" stroke-opacity="0.57" stroke-width="0.7"/><circle cx="511.6" cy="396.4" r="2.55" fill="#E86969" fill-opacity="0.57" stroke="#E86969" stroke-opacity="0.57" stroke-width="0.7"/><circle cx="524.2" cy="396.7" r="2.55" fill="#50D787" fill-opacity="0.57" stroke="#50D787" stroke-opacity="0.57" stroke-width="0.7"/><circle cx="542.7" cy="396.1" r="2.55" fill="#E669FA" fill-opacity="0.57" stroke="#E669FA" stroke-opacity="0.57" stroke-width="0.7"/><circle cx="548.7" cy="390.8" r="2.55" fill="#E86969" fill-opacity="0.57" stroke="#E86969" stroke-opacity="0.57" stroke-width="0.7"/><circle cx="548.7" cy="394.8" r="2.55" fill="#E86969" fill-opacity="0.57" stroke="#E86969" stroke-opacity="0.57" stroke-width="0.7"/><circle cx="465.0" cy="402.4" r="2.55" fill="#A0AF28" fill-opacity="0.57" stroke="#A0AF28" stroke-opacity="0.57" stroke-width="0.7"/><circle cx="469.3" cy="407.4" r="2.55" fill="#E86969" fill-opacity="0.57" stroke="#E86969" stroke-opacity="0.57" stroke-width="0.7"/><circle cx="477.3" cy="404.3" r="2.55" fill="#E86969" fill-opacity="0.57" stroke="#E86969" stroke-opacity="0.57" stroke-width="0.7"/><circle cx="491.9" cy="403.0" r="2.55" fill="#E669FA" fill-opacity="0.57" stroke="#E669FA" stroke-opacity="0.57" stroke-width="0.7"/><circle cx="487.9" cy="407.7" r="2.55" fill="#E86969" fill-opacity="0.57" stroke="#E86969" stroke-opacity="0.57" stroke-width="0.7"/><circle cx="523.5" cy="402.4" r="2.55" fill="#E669FA" fill-opacity="0.57" stroke="#E669FA" stroke-opacity="0.57" stroke-width="0.7"/><circle cx="548.7" cy="402.7" r="2.55" fill="#E86969" fill-opacity="0.57" stroke="#E86969" stroke-opacity="0.57" stroke-width="0.7"/><circle cx="507.7" cy="410.6" r="2.55" fill="#E86969" fill-opacity="0.57" stroke="#E86969" stroke-opacity="0.57" stroke-width="0.7"/><circle cx="510.8" cy="410.6" r="2.55" fill="#A0AF28" fill-opacity="0.57" stroke="#A0AF28" stroke-opacity="0.57" stroke-width="0.7"/><circle cx="514.0" cy="410.6" r="2.55" fill="#A0AF28" fill-opacity="0.57" stroke="#A0AF28" stroke-opacity="0.57" stroke-width="0.7"/><circle cx="516.4" cy="407.4" r="2.55" fill="#55BEF5" fill-opacity="0.57" stroke="#55BEF5" stroke-opacity="0.57" stroke-width="0.7"/><circle cx="515.1" cy="412.5" r="2.55" fill="#A0AF28" fill-opacity="0.57" stroke="#A0AF28" stroke-opacity="0.57" stroke-width="0.7"/><circle cx="521.6" cy="412.5" r="2.55" fill="#A0AF28" fill-opacity="0.57" stroke="#A0AF28" stroke-opacity="0.57" stroke-width="0.7"/><circle cx="525.5" cy="411.1" r="2.55" fill="#A0AF28" fill-opacity="0.57" stroke="#A0AF28" stroke-opacity="0.57" stroke-width="0.7"/><circle cx="540.4" cy="410.1" r="2.55" fill="#A0AF28" fill-opacity="0.57" stroke="#A0AF28" stroke-opacity="0.57" stroke-width="0.7"/><circle cx="543.5" cy="408.2" r="2.55" fill="#E86969" fill-opacity="0.57" stroke="#E86969" stroke-opacity="0.57" stroke-width="0.7"/><circle cx="546.7" cy="410.1" r="2.55" fill="#E86969" fill-opacity="0.57" stroke="#E86969" stroke-opacity="0.57" stroke-width="0.7"/><circle cx="549.2" cy="416.1" r="2.55" fill="#A0AF28" fill-opacity="0.57" stroke="#A0AF28" stroke-opacity="0.57" stroke-width="0.7"/><circle cx="536.6" cy="416.1" r="2.55" fill="#50D787" fill-opacity="0.57" stroke="#50D787" stroke-opacity="0.57" stroke-width="0.7"/><circle cx="457.4" cy="418.5" r="2.55" fill="#E86969" fill-opacity="0.57" stroke="#E86969" stroke-opacity="0.57" stroke-width="0.7"/><circle cx="472.4" cy="415.0" r="2.55" fill="#E86969" fill-opacity="0.57" stroke="#E86969" stroke-opacity="0.57" stroke-width="0.7"/><circle cx="473.4" cy="416.1" r="2.55" fill="#A0AF28" fill-opacity="0.57" stroke="#A0AF28" stroke-opacity="0.57" stroke-width="0.7"/><circle cx="483.5" cy="417.4" r="2.55" fill="#A0AF28" fill-opacity="0.57" stroke="#A0AF28" stroke-opacity="0.57" stroke-width="0.7"/><circle cx="487.4" cy="421.6" r="2.55" fill="#E86969" fill-opacity="0.57" stroke="#E86969" stroke-opacity="0.57" stroke-width="0.7"/><circle cx="490.8" cy="423.2" r="2.55" fill="#A0AF28" fill-opacity="0.57" stroke="#A0AF28" stroke-opacity="0.57" stroke-width="0.7"/><circle cx="484.4" cy="424.8" r="2.55" fill="#A0AF28" fill-opacity="0.57" stroke="#A0AF28" stroke-opacity="0.57" stroke-width="0.7"/><circle cx="497.4" cy="416.1" r="2.55" fill="#E86969" fill-opacity="0.57" stroke="#E86969" stroke-opacity="0.57" stroke-width="0.7"/><circle cx="501.3" cy="418.0" r="2.55" fill="#E86969" fill-opacity="0.57" stroke="#E86969" stroke-opacity="0.57" stroke-width="0.7"/><circle cx="501.3" cy="420.1" r="2.55" fill="#E669FA" fill-opacity="0.57" stroke="#E669FA" stroke-opacity="0.57" stroke-width="0.7"/><circle cx="508.9" cy="416.6" r="2.55" fill="#A0AF28" fill-opacity="0.57" stroke="#A0AF28" stroke-opacity="0.57" stroke-width="0.7"/><circle cx="507.3" cy="421.6" r="2.55" fill="#A0AF28" fill-opacity="0.57" stroke="#A0AF28" stroke-opacity="0.57" stroke-width="0.7"/><circle cx="524.9" cy="421.6" r="2.55" fill="#E86969" fill-opacity="0.57" stroke="#E86969" stroke-opacity="0.57" stroke-width="0.7"/><circle cx="542.1" cy="418.8" r="2.55" fill="#E669FA" fill-opacity="0.57" stroke="#E669FA" stroke-opacity="0.57" stroke-width="0.7"/><circle cx="545.9" cy="419.6" r="2.55" fill="#E669FA" fill-opacity="0.57" stroke="#E669FA" stroke-opacity="0.57" stroke-width="0.7"/><circle cx="544.3" cy="421.3" r="2.55" fill="#A0AF28" fill-opacity="0.57" stroke="#A0AF28" stroke-opacity="0.57" stroke-width="0.7"/><circle cx="501.0" cy="425.3" r="2.55" fill="#E86969" fill-opacity="0.57" stroke="#E86969" stroke-opacity="0.57" stroke-width="0.7"/><circle cx="512.7" cy="427.2" r="2.55" fill="#E86969" fill-opacity="0.57" stroke="#E86969" stroke-opacity="0.57" stroke-width="0.7"/><circle cx="521.1" cy="429.5" r="2.55" fill="#A0AF28" fill-opacity="0.57" stroke="#A0AF28" stroke-opacity="0.57" stroke-width="0.7"/><circle cx="525.8" cy="427.2" r="2.55" fill="#A0AF28" fill-opacity="0.57" stroke="#A0AF28" stroke-opacity="0.57" stroke-width="0.7"/><circle cx="465.0" cy="425.6" r="2.55" fill="#E669FA" fill-opacity="0.57" stroke="#E669FA" stroke-opacity="0.57" stroke-width="0.7"/><circle cx="466.6" cy="424.0" r="2.55" fill="#E669FA" fill-opacity="0.57" stroke="#E669FA" stroke-opacity="0.57" stroke-width="0.7"/><circle cx="460.7" cy="428.8" r="2.55" fill="#A0AF28" fill-opacity="0.57" stroke="#A0AF28" stroke-opacity="0.57" stroke-width="0.7"/><circle cx="475.0" cy="428.3" r="2.55" fill="#A0AF28" fill-opacity="0.57" stroke="#A0AF28" stroke-opacity="0.57" stroke-width="0.7"/><circle cx="481.6" cy="427.2" r="2.55" fill="#A0AF28" fill-opacity="0.57" stroke="#A0AF28" stroke-opacity="0.57" stroke-width="0.7"/><circle cx="489.5" cy="430.8" r="2.55" fill="#A0AF28" fill-opacity="0.57" stroke="#A0AF28" stroke-opacity="0.57" stroke-width="0.7"/><circle cx="494.5" cy="430.8" r="2.55" fill="#A0AF28" fill-opacity="0.57" stroke="#A0AF28" stroke-opacity="0.57" stroke-width="0.7"/><circle cx="464.2" cy="435.1" r="2.55" fill="#55BEF5" fill-opacity="0.57" stroke="#55BEF5" stroke-opacity="0.57" stroke-width="0.7"/><circle cx="476.9" cy="435.1" r="2.55" fill="#50D787" fill-opacity="0.57" stroke="#50D787" stroke-opacity="0.57" stroke-width="0.7"/><circle cx="503.7" cy="435.1" r="2.55" fill="#50D787" fill-opacity="0.57" stroke="#50D787" stroke-opacity="0.57" stroke-width="0.7"/><circle cx="508.5" cy="434.3" r="2.55" fill="#E669FA" fill-opacity="0.57" stroke="#E669FA" stroke-opacity="0.57" stroke-width="0.7"/><circle cx="540.4" cy="435.1" r="2.55" fill="#E669FA" fill-opacity="0.57" stroke="#E669FA" stroke-opacity="0.57" stroke-width="0.7"/><circle cx="547.5" cy="435.1" r="2.55" fill="#E669FA" fill-opacity="0.57" stroke="#E669FA" stroke-opacity="0.57" stroke-width="0.7"/><circle cx="431.6" cy="168.8" r="2.55" fill="#55BEF5" fill-opacity="0.57" stroke="#55BEF5" stroke-opacity="0.57" stroke-width="0.7"/><circle cx="406.3" cy="174.8" r="2.55" fill="#E86969" fill-opacity="0.57" stroke="#E86969" stroke-opacity="0.57" stroke-width="0.7"/><circle cx="416.2" cy="188.5" r="2.55" fill="#E86969" fill-opacity="0.57" stroke="#E86969" stroke-opacity="0.57" stroke-width="0.7"/><circle cx="434.7" cy="189.2" r="2.55" fill="#A0AF28" fill-opacity="0.57" stroke="#A0AF28" stroke-opacity="0.57" stroke-width="0.7"/><circle cx="438.5" cy="192.4" r="2.55" fill="#E86969" fill-opacity="0.57" stroke="#E86969" stroke-opacity="0.57" stroke-width="0.7"/><circle cx="452.0" cy="210.1" r="2.55" fill="#E86969" fill-opacity="0.57" stroke="#E86969" stroke-opacity="0.57" stroke-width="0.7"/><circle cx="411.2" cy="221.1" r="2.55" fill="#E86969" fill-opacity="0.57" stroke="#E86969" stroke-opacity="0.57" stroke-width="0.7"/><circle cx="435.8" cy="222.7" r="2.55" fill="#E86969" fill-opacity="0.57" stroke="#E86969" stroke-opacity="0.57" stroke-width="0.7"/><circle cx="450.8" cy="223.3" r="2.55" fill="#E86969" fill-opacity="0.57" stroke="#E86969" stroke-opacity="0.57" stroke-width="0.7"/><circle cx="453.6" cy="227.2" r="2.55" fill="#E86969" fill-opacity="0.57" stroke="#E86969" stroke-opacity="0.57" stroke-width="0.7"/><circle cx="450.3" cy="229.3" r="2.55" fill="#E86969" fill-opacity="0.57" stroke="#E86969" stroke-opacity="0.57" stroke-width="0.7"/><circle cx="386.1" cy="237.1" r="2.55" fill="#50D787" fill-opacity="0.57" stroke="#50D787" stroke-opacity="0.57" stroke-width="0.7"/><circle cx="399.3" cy="259.4" r="2.55" fill="#50D787" fill-opacity="0.57" stroke="#50D787" stroke-opacity="0.57" stroke-width="0.7"/><circle cx="389.9" cy="263.3" r="2.55" fill="#E669FA" fill-opacity="0.57" stroke="#E669FA" stroke-opacity="0.57" stroke-width="0.7"/><circle cx="406.8" cy="268.1" r="2.55" fill="#E669FA" fill-opacity="0.57" stroke="#E669FA" stroke-opacity="0.57" stroke-width="0.7"/><circle cx="435.8" cy="268.1" r="2.55" fill="#E86969" fill-opacity="0.57" stroke="#E86969" stroke-opacity="0.57" stroke-width="0.7"/><circle cx="437.4" cy="272.4" r="2.55" fill="#E669FA" fill-opacity="0.57" stroke="#E669FA" stroke-opacity="0.57" stroke-width="0.7"/><circle cx="441.3" cy="271.7" r="2.55" fill="#E86969" fill-opacity="0.57" stroke="#E86969" stroke-opacity="0.57" stroke-width="0.7"/><circle cx="401.0" cy="279.2" r="2.55" fill="#A0AF28" fill-opacity="0.57" stroke="#A0AF28" stroke-opacity="0.57" stroke-width="0.7"/><circle cx="421.6" cy="278.3" r="2.55" fill="#E86969" fill-opacity="0.57" stroke="#E86969" stroke-opacity="0.57" stroke-width="0.7"/><circle cx="440.2" cy="279.2" r="2.55" fill="#E86969" fill-opacity="0.57" stroke="#E86969" stroke-opacity="0.57" stroke-width="0.7"/><circle cx="438.2" cy="281.6" r="2.55" fill="#E669FA" fill-opacity="0.57" stroke="#E669FA" stroke-opacity="0.57" stroke-width="0.7"/><circle cx="385.1" cy="291.0" r="2.55" fill="#E86969" fill-opacity="0.57" stroke="#E86969" stroke-opacity="0.57" stroke-width="0.7"/><circle cx="420.3" cy="288.9" r="2.55" fill="#E86969" fill-opacity="0.57" stroke="#E86969" stroke-opacity="0.57" stroke-width="0.7"/><circle cx="408.7" cy="293.3" r="2.55" fill="#E86969" fill-opacity="0.57" stroke="#E86969" stroke-opacity="0.57" stroke-width="0.7"/><circle cx="444.5" cy="293.3" r="2.55" fill="#E669FA" fill-opacity="0.57" stroke="#E669FA" stroke-opacity="0.57" stroke-width="0.7"/><circle cx="450.0" cy="296.5" r="2.55" fill="#55BEF5" fill-opacity="0.57" stroke="#55BEF5" stroke-opacity="0.57" stroke-width="0.7"/><circle cx="453.1" cy="296.0" r="2.55" fill="#E86969" fill-opacity="0.57" stroke="#E86969" stroke-opacity="0.57" stroke-width="0.7"/><circle cx="458.8" cy="36.6" r="2.55" fill="#A0AF28" fill-opacity="0.57" stroke="#A0AF28" stroke-opacity="0.57" stroke-width="0.7"/><circle cx="537.1" cy="36.7" r="2.55" fill="#E86969" fill-opacity="0.57" stroke="#E86969" stroke-opacity="0.57" stroke-width="0.7"/><circle cx="454.4" cy="74.8" r="2.55" fill="#E86969" fill-opacity="0.57" stroke="#E86969" stroke-opacity="0.57" stroke-width="0.7"/><circle cx="481.3" cy="97.5" r="2.55" fill="#55BEF5" fill-opacity="0.57" stroke="#55BEF5" stroke-opacity="0.57" stroke-width="0.7"/><circle cx="532.2" cy="120.4" r="2.55" fill="#E86969" fill-opacity="0.57" stroke="#E86969" stroke-opacity="0.57" stroke-width="0.7"/><circle cx="475.7" cy="145.0" r="2.55" fill="#E86969" fill-opacity="0.57" stroke="#E86969" stroke-opacity="0.57" stroke-width="0.7"/><circle cx="503.3" cy="155.5" r="2.55" fill="#55BEF5" fill-opacity="0.57" stroke="#55BEF5" stroke-opacity="0.57" stroke-width="0.7"/><circle cx="532.5" cy="175.8" r="2.55" fill="#E669FA" fill-opacity="0.57" stroke="#E669FA" stroke-opacity="0.57" stroke-width="0.7"/><circle cx="477.1" cy="182.4" r="2.55" fill="#E86969" fill-opacity="0.57" stroke="#E86969" stroke-opacity="0.57" stroke-width="0.7"/><circle cx="458.8" cy="204.4" r="2.55" fill="#50D787" fill-opacity="0.57" stroke="#50D787" stroke-opacity="0.57" stroke-width="0.7"/><circle cx="468.2" cy="226.1" r="2.55" fill="#50D787" fill-opacity="0.57" stroke="#50D787" stroke-opacity="0.57" stroke-width="0.7"/><circle cx="486.2" cy="222.6" r="2.55" fill="#E669FA" fill-opacity="0.57" stroke="#E669FA" stroke-opacity="0.57" stroke-width="0.7"/><circle cx="474.3" cy="234.8" r="2.55" fill="#55BEF5" fill-opacity="0.57" stroke="#55BEF5" stroke-opacity="0.57" stroke-width="0.7"/><circle cx="497.4" cy="237.2" r="2.55" fill="#50D787" fill-opacity="0.57" stroke="#50D787" stroke-opacity="0.57" stroke-width="0.7"/><circle cx="489.1" cy="240.6" r="2.55" fill="#E86969" fill-opacity="0.57" stroke="#E86969" stroke-opacity="0.57" stroke-width="0.7"/><circle cx="507.4" cy="244.7" r="2.55" fill="#E86969" fill-opacity="0.57" stroke="#E86969" stroke-opacity="0.57" stroke-width="0.7"/><circle cx="482.4" cy="249.1" r="2.55" fill="#E86969" fill-opacity="0.57" stroke="#E86969" stroke-opacity="0.57" stroke-width="0.7"/><circle cx="481.6" cy="261.8" r="2.55" fill="#E86969" fill-opacity="0.57" stroke="#E86969" stroke-opacity="0.57" stroke-width="0.7"/><circle cx="475.4" cy="264.4" r="2.55" fill="#E669FA" fill-opacity="0.57" stroke="#E669FA" stroke-opacity="0.57" stroke-width="0.7"/><circle cx="474.3" cy="268.4" r="2.55" fill="#E669FA" fill-opacity="0.57" stroke="#E669FA" stroke-opacity="0.57" stroke-width="0.7"/><circle cx="509.3" cy="267.2" r="2.55" fill="#E86969" fill-opacity="0.57" stroke="#E86969" stroke-opacity="0.57" stroke-width="0.7"/><circle cx="515.3" cy="264.7" r="2.55" fill="#E86969" fill-opacity="0.57" stroke="#E86969" stroke-opacity="0.57" stroke-width="0.7"/><circle cx="496.8" cy="271.0" r="2.55" fill="#E86969" fill-opacity="0.57" stroke="#E86969" stroke-opacity="0.57" stroke-width="0.7"/><circle cx="497.9" cy="271.3" r="2.55" fill="#A0AF28" fill-opacity="0.57" stroke="#A0AF28" stroke-opacity="0.57" stroke-width="0.7"/><circle cx="481.5" cy="275.8" r="2.55" fill="#A0AF28" fill-opacity="0.57" stroke="#A0AF28" stroke-opacity="0.57" stroke-width="0.7"/><circle cx="510.5" cy="280.1" r="2.55" fill="#E86969" fill-opacity="0.57" stroke="#E86969" stroke-opacity="0.57" stroke-width="0.7"/><circle cx="508.2" cy="285.1" r="2.55" fill="#A0AF28" fill-opacity="0.57" stroke="#A0AF28" stroke-opacity="0.57" stroke-width="0.7"/><circle cx="511.2" cy="290.7" r="2.55" fill="#E86969" fill-opacity="0.57" stroke="#E86969" stroke-opacity="0.57" stroke-width="0.7"/><circle cx="536.9" cy="265.6" r="2.55" fill="#50D787" fill-opacity="0.57" stroke="#50D787" stroke-opacity="0.57" stroke-width="0.7"/><circle cx="459.4" cy="298.3" r="2.55" fill="#50D787" fill-opacity="0.57" stroke="#50D787" stroke-opacity="0.57" stroke-width="0.7"/><circle cx="478.1" cy="297.9" r="2.55" fill="#E86969" fill-opacity="0.57" stroke="#E86969" stroke-opacity="0.57" stroke-width="0.7"/><circle cx="486.2" cy="297.2" r="2.55" fill="#50D787" fill-opacity="0.57" stroke="#50D787" stroke-opacity="0.57" stroke-width="0.7"/><circle cx="494.4" cy="295.6" r="2.55" fill="#E669FA" fill-opacity="0.57" stroke="#E669FA" stroke-opacity="0.57" stroke-width="0.7"/><circle cx="549.5" cy="303.2" r="2.55" fill="#E86969" fill-opacity="0.57" stroke="#E86969" stroke-opacity="0.57" stroke-width="0.7"/><circle cx="581.2" cy="191.4" r="2.55" fill="#50D787" fill-opacity="0.57" stroke="#50D787" stroke-opacity="0.57" stroke-width="0.7"/><circle cx="579.3" cy="235.7" r="2.55" fill="#50D787" fill-opacity="0.57" stroke="#50D787" stroke-opacity="0.57" stroke-width="0.7"/><circle cx="553.2" cy="240.4" r="2.55" fill="#E86969" fill-opacity="0.57" stroke="#E86969" stroke-opacity="0.57" stroke-width="0.7"/><circle cx="648.6" cy="239.4" r="2.55" fill="#E86969" fill-opacity="0.57" stroke="#E86969" stroke-opacity="0.57" stroke-width="0.7"/><circle cx="608.8" cy="251.3" r="2.55" fill="#A0AF28" fill-opacity="0.57" stroke="#A0AF28" stroke-opacity="0.57" stroke-width="0.7"/><circle cx="576.1" cy="256.4" r="2.55" fill="#E86969" fill-opacity="0.57" stroke="#E86969" stroke-opacity="0.57" stroke-width="0.7"/><circle cx="602.2" cy="258.6" r="2.55" fill="#E86969" fill-opacity="0.57" stroke="#E86969" stroke-opacity="0.57" stroke-width="0.7"/><circle cx="573.2" cy="265.4" r="2.55" fill="#E86969" fill-opacity="0.57" stroke="#E86969" stroke-opacity="0.57" stroke-width="0.7"/><circle cx="598.8" cy="268.8" r="2.55" fill="#E86969" fill-opacity="0.57" stroke="#E86969" stroke-opacity="0.57" stroke-width="0.7"/><circle cx="633.3" cy="269.4" r="2.55" fill="#A0AF28" fill-opacity="0.57" stroke="#A0AF28" stroke-opacity="0.57" stroke-width="0.7"/><circle cx="579.1" cy="272.5" r="2.55" fill="#E86969" fill-opacity="0.57" stroke="#E86969" stroke-opacity="0.57" stroke-width="0.7"/><circle cx="575.7" cy="283.8" r="2.55" fill="#E86969" fill-opacity="0.57" stroke="#E86969" stroke-opacity="0.57" stroke-width="0.7"/><circle cx="644.1" cy="296.0" r="2.55" fill="#E86969" fill-opacity="0.57" stroke="#E86969" stroke-opacity="0.57" stroke-width="0.7"/><circle cx="647.2" cy="299.1" r="2.55" fill="#55BEF5" fill-opacity="0.57" stroke="#55BEF5" stroke-opacity="0.57" stroke-width="0.7"/><circle cx="581.2" cy="304.6" r="2.55" fill="#E86969" fill-opacity="0.57" stroke="#E86969" stroke-opacity="0.57" stroke-width="0.7"/><circle cx="592.0" cy="304.6" r="2.55" fill="#A0AF28" fill-opacity="0.57" stroke="#A0AF28" stroke-opacity="0.57" stroke-width="0.7"/><circle cx="627.8" cy="304.2" r="2.55" fill="#E86969" fill-opacity="0.57" stroke="#E86969" stroke-opacity="0.57" stroke-width="0.7"/><circle cx="643.7" cy="305.2" r="2.55" fill="#55BEF5" fill-opacity="0.57" stroke="#55BEF5" stroke-opacity="0.57" stroke-width="0.7"/><circle cx="614.0" cy="309.0" r="2.55" fill="#A0AF28" fill-opacity="0.57" stroke="#A0AF28" stroke-opacity="0.57" stroke-width="0.7"/><circle cx="562.9" cy="324.5" r="2.55" fill="#E669FA" fill-opacity="0.57" stroke="#E669FA" stroke-opacity="0.57" stroke-width="0.7"/><circle cx="573.9" cy="325.6" r="2.55" fill="#50D787" fill-opacity="0.57" stroke="#50D787" stroke-opacity="0.57" stroke-width="0.7"/><circle cx="583.2" cy="324.2" r="2.55" fill="#E86969" fill-opacity="0.57" stroke="#E86969" stroke-opacity="0.57" stroke-width="0.7"/><circle cx="584.8" cy="327.2" r="2.55" fill="#55BEF5" fill-opacity="0.57" stroke="#55BEF5" stroke-opacity="0.57" stroke-width="0.7"/><circle cx="593.5" cy="321.0" r="2.55" fill="#E669FA" fill-opacity="0.57" stroke="#E669FA" stroke-opacity="0.57" stroke-width="0.7"/><circle cx="596.0" cy="321.0" r="2.55" fill="#E86969" fill-opacity="0.57" stroke="#E86969" stroke-opacity="0.57" stroke-width="0.7"/><circle cx="617.4" cy="315.3" r="2.55" fill="#E669FA" fill-opacity="0.57" stroke="#E669FA" stroke-opacity="0.57" stroke-width="0.7"/><circle cx="617.0" cy="319.4" r="2.55" fill="#55BEF5" fill-opacity="0.57" stroke="#55BEF5" stroke-opacity="0.57" stroke-width="0.7"/><circle cx="600.3" cy="328.9" r="2.55" fill="#55BEF5" fill-opacity="0.57" stroke="#55BEF5" stroke-opacity="0.57" stroke-width="0.7"/><circle cx="607.4" cy="327.3" r="2.55" fill="#55BEF5" fill-opacity="0.57" stroke="#55BEF5" stroke-opacity="0.57" stroke-width="0.7"/><circle cx="565.2" cy="333.2" r="2.55" fill="#A0AF28" fill-opacity="0.57" stroke="#A0AF28" stroke-opacity="0.57" stroke-width="0.7"/><circle cx="565.2" cy="336.7" r="2.55" fill="#55BEF5" fill-opacity="0.57" stroke="#55BEF5" stroke-opacity="0.57" stroke-width="0.7"/><circle cx="621.6" cy="327.6" r="2.55" fill="#A0AF28" fill-opacity="0.57" stroke="#A0AF28" stroke-opacity="0.57" stroke-width="0.7"/><circle cx="626.7" cy="329.7" r="2.55" fill="#E86969" fill-opacity="0.57" stroke="#E86969" stroke-opacity="0.57" stroke-width="0.7"/><circle cx="633.8" cy="317.4" r="2.55" fill="#A0AF28" fill-opacity="0.57" stroke="#A0AF28" stroke-opacity="0.57" stroke-width="0.7"/><circle cx="640.6" cy="315.8" r="2.55" fill="#E86969" fill-opacity="0.57" stroke="#E86969" stroke-opacity="0.57" stroke-width="0.7"/><circle cx="643.7" cy="319.0" r="2.55" fill="#E86969" fill-opacity="0.57" stroke="#E86969" stroke-opacity="0.57" stroke-width="0.7"/><circle cx="555.7" cy="345.5" r="2.55" fill="#50D787" fill-opacity="0.57" stroke="#50D787" stroke-opacity="0.57" stroke-width="0.7"/><circle cx="558.4" cy="346.6" r="2.55" fill="#55BEF5" fill-opacity="0.57" stroke="#55BEF5" stroke-opacity="0.57" stroke-width="0.7"/><circle cx="562.9" cy="347.7" r="2.55" fill="#E669FA" fill-opacity="0.57" stroke="#E669FA" stroke-opacity="0.57" stroke-width="0.7"/><circle cx="566.3" cy="350.2" r="2.55" fill="#E86969" fill-opacity="0.57" stroke="#E86969" stroke-opacity="0.57" stroke-width="0.7"/><circle cx="574.2" cy="347.7" r="2.55" fill="#E86969" fill-opacity="0.57" stroke="#E86969" stroke-opacity="0.57" stroke-width="0.7"/><circle cx="578.6" cy="343.8" r="2.55" fill="#E86969" fill-opacity="0.57" stroke="#E86969" stroke-opacity="0.57" stroke-width="0.7"/><circle cx="585.8" cy="342.3" r="2.55" fill="#50D787" fill-opacity="0.57" stroke="#50D787" stroke-opacity="0.57" stroke-width="0.7"/><circle cx="553.2" cy="367.5" r="2.55" fill="#50D787" fill-opacity="0.57" stroke="#50D787" stroke-opacity="0.57" stroke-width="0.7"/><circle cx="545.8" cy="362.4" r="2.55" fill="#E86969" fill-opacity="0.57" stroke="#E86969" stroke-opacity="0.57" stroke-width="0.7"/><circle cx="606.6" cy="365.6" r="2.55" fill="#E86969" fill-opacity="0.57" stroke="#E86969" stroke-opacity="0.57" stroke-width="0.7"/><circle cx="614.8" cy="362.7" r="2.55" fill="#E86969" fill-opacity="0.57" stroke="#E86969" stroke-opacity="0.57" stroke-width="0.7"/><circle cx="629.5" cy="367.6" r="2.55" fill="#A0AF28" fill-opacity="0.57" stroke="#A0AF28" stroke-opacity="0.57" stroke-width="0.7"/><circle cx="617.4" cy="371.4" r="2.55" fill="#E86969" fill-opacity="0.57" stroke="#E86969" stroke-opacity="0.57" stroke-width="0.7"/><circle cx="619.2" cy="375.0" r="2.55" fill="#E669FA" fill-opacity="0.57" stroke="#E669FA" stroke-opacity="0.57" stroke-width="0.7"/><circle cx="642.9" cy="366.0" r="2.55" fill="#55BEF5" fill-opacity="0.57" stroke="#55BEF5" stroke-opacity="0.57" stroke-width="0.7"/><circle cx="644.2" cy="371.4" r="2.55" fill="#E86969" fill-opacity="0.57" stroke="#E86969" stroke-opacity="0.57" stroke-width="0.7"/><circle cx="643.7" cy="376.9" r="2.55" fill="#55BEF5" fill-opacity="0.57" stroke="#55BEF5" stroke-opacity="0.57" stroke-width="0.7"/><circle cx="630.3" cy="380.3" r="2.55" fill="#E669FA" fill-opacity="0.57" stroke="#E669FA" stroke-opacity="0.57" stroke-width="0.7"/><circle cx="637.4" cy="384.5" r="2.55" fill="#A0AF28" fill-opacity="0.57" stroke="#A0AF28" stroke-opacity="0.57" stroke-width="0.7"/><circle cx="606.3" cy="381.0" r="2.55" fill="#E86969" fill-opacity="0.57" stroke="#E86969" stroke-opacity="0.57" stroke-width="0.7"/><circle cx="603.8" cy="387.4" r="2.55" fill="#A0AF28" fill-opacity="0.57" stroke="#A0AF28" stroke-opacity="0.57" stroke-width="0.7"/><circle cx="609.8" cy="388.0" r="2.55" fill="#A0AF28" fill-opacity="0.57" stroke="#A0AF28" stroke-opacity="0.57" stroke-width="0.7"/><circle cx="574.4" cy="381.7" r="2.55" fill="#E669FA" fill-opacity="0.57" stroke="#E669FA" stroke-opacity="0.57" stroke-width="0.7"/><circle cx="582.6" cy="383.3" r="2.55" fill="#E86969" fill-opacity="0.57" stroke="#E86969" stroke-opacity="0.57" stroke-width="0.7"/><circle cx="585.6" cy="383.3" r="2.55" fill="#E86969" fill-opacity="0.57" stroke="#E86969" stroke-opacity="0.57" stroke-width="0.7"/><circle cx="556.1" cy="387.4" r="2.55" fill="#A0AF28" fill-opacity="0.57" stroke="#A0AF28" stroke-opacity="0.57" stroke-width="0.7"/><circle cx="559.5" cy="389.3" r="2.55" fill="#E86969" fill-opacity="0.57" stroke="#E86969" stroke-opacity="0.57" stroke-width="0.7"/><circle cx="562.1" cy="390.8" r="2.55" fill="#E86969" fill-opacity="0.57" stroke="#E86969" stroke-opacity="0.57" stroke-width="0.7"/><circle cx="556.1" cy="394.5" r="2.55" fill="#E86969" fill-opacity="0.57" stroke="#E86969" stroke-opacity="0.57" stroke-width="0.7"/><circle cx="556.4" cy="396.8" r="2.55" fill="#E86969" fill-opacity="0.57" stroke="#E86969" stroke-opacity="0.57" stroke-width="0.7"/><circle cx="572.2" cy="391.3" r="2.55" fill="#E86969" fill-opacity="0.57" stroke="#E86969" stroke-opacity="0.57" stroke-width="0.7"/><circle cx="575.8" cy="391.3" r="2.55" fill="#E86969" fill-opacity="0.57" stroke="#E86969" stroke-opacity="0.57" stroke-width="0.7"/><circle cx="581.0" cy="395.3" r="2.55" fill="#A0AF28" fill-opacity="0.57" stroke="#A0AF28" stroke-opacity="0.57" stroke-width="0.7"/><circle cx="591.1" cy="394.8" r="2.55" fill="#E86969" fill-opacity="0.57" stroke="#E86969" stroke-opacity="0.57" stroke-width="0.7"/><circle cx="573.1" cy="399.2" r="2.55" fill="#E86969" fill-opacity="0.57" stroke="#E86969" stroke-opacity="0.57" stroke-width="0.7"/><circle cx="582.6" cy="400.5" r="2.55" fill="#50D787" fill-opacity="0.57" stroke="#50D787" stroke-opacity="0.57" stroke-width="0.7"/><circle cx="559.5" cy="403.2" r="2.55" fill="#E669FA" fill-opacity="0.57" stroke="#E669FA" stroke-opacity="0.57" stroke-width="0.7"/><circle cx="561.9" cy="401.6" r="2.55" fill="#E86969" fill-opacity="0.57" stroke="#E86969" stroke-opacity="0.57" stroke-width="0.7"/><circle cx="562.1" cy="405.5" r="2.55" fill="#E86969" fill-opacity="0.57" stroke="#E86969" stroke-opacity="0.57" stroke-width="0.7"/><circle cx="574.7" cy="403.5" r="2.55" fill="#E86969" fill-opacity="0.57" stroke="#E86969" stroke-opacity="0.57" stroke-width="0.7"/><circle cx="575.0" cy="405.8" r="2.55" fill="#E86969" fill-opacity="0.57" stroke="#E86969" stroke-opacity="0.57" stroke-width="0.7"/><circle cx="590.3" cy="402.4" r="2.55" fill="#E86969" fill-opacity="0.57" stroke="#E86969" stroke-opacity="0.57" stroke-width="0.7"/><circle cx="592.4" cy="401.1" r="2.55" fill="#E86969" fill-opacity="0.57" stroke="#E86969" stroke-opacity="0.57" stroke-width="0.7"/><circle cx="559.5" cy="410.1" r="2.55" fill="#E86969" fill-opacity="0.57" stroke="#E86969" stroke-opacity="0.57" stroke-width="0.7"/><circle cx="559.5" cy="415.0" r="2.55" fill="#50D787" fill-opacity="0.57" stroke="#50D787" stroke-opacity="0.57" stroke-width="0.7"/><circle cx="586.5" cy="425.3" r="2.55" fill="#E86969" fill-opacity="0.57" stroke="#E86969" stroke-opacity="0.57" stroke-width="0.7"/><circle cx="612.1" cy="428.3" r="2.55" fill="#E669FA" fill-opacity="0.57" stroke="#E669FA" stroke-opacity="0.57" stroke-width="0.7"/><circle cx="646.6" cy="312.3" r="2.55" fill="#E86969" fill-opacity="0.57" stroke="#E86969" stroke-opacity="0.57" stroke-width="0.7"/><circle cx="653.4" cy="361.1" r="2.55" fill="#A0AF28" fill-opacity="0.57" stroke="#A0AF28" stroke-opacity="0.57" stroke-width="0.7"/><circle cx="650.8" cy="376.1" r="2.55" fill="#E669FA" fill-opacity="0.57" stroke="#E669FA" stroke-opacity="0.57" stroke-width="0.7"/><circle cx="654.3" cy="416.5" r="2.55" fill="#E86969" fill-opacity="0.57" stroke="#E86969" stroke-opacity="0.57" stroke-width="0.7"/><circle cx="349.8" cy="173.0" r="2.55" fill="#E86969" fill-opacity="0.57" stroke="#E86969" stroke-opacity="0.57" stroke-width="0.7"/><circle cx="351.4" cy="283.3" r="2.55" fill="#E86969" fill-opacity="0.57" stroke="#E86969" stroke-opacity="0.57" stroke-width="0.7"/><path d="M116.60 419.25 L118.60 419.00 L120.60 418.74 L122.60 418.48 L124.60 418.22 L126.60 417.95 L128.60 417.68 L130.60 417.41 L132.60 417.13 L134.60 416.84 L136.60 416.56 L138.60 416.27 L140.60 415.97 L142.60 415.67 L144.60 415.37 L146.60 415.06 L148.60 414.76 L150.60 414.44 L152.60 414.13 L154.60 413.80 L156.60 413.48 L158.60 413.15 L160.60 412.82 L162.60 412.49 L164.60 412.15 L166.60 411.80 L168.60 411.46 L170.60 411.11 L172.60 410.76 L174.60 410.40 L176.60 410.04 L178.60 409.68 L180.60 409.31 L182.60 408.94 L184.60 408.56 L186.60 408.19 L188.60 407.81 L190.60 407.42 L192.60 407.04 L194.60 406.65 L196.60 406.25 L198.60 405.85 L200.60 405.45 L202.60 405.05 L204.60 404.64 L206.60 404.23 L208.60 403.82 L210.60 403.40 L212.60 402.98 L214.60 402.56 L216.60 402.13 L218.60 401.70 L220.60 401.27 L222.60 400.83 L224.60 400.39 L226.60 399.95 L228.60 399.51 L230.60 399.06 L232.60 398.61 L234.60 398.15 L236.60 397.70 L238.60 397.24 L240.60 396.77 L242.60 396.31 L244.60 395.84 L246.60 395.37 L248.60 394.89 L250.60 394.41 L252.60 393.93 L254.60 393.45 L256.60 392.96 L258.60 392.48 L260.60 391.98 L262.60 391.49 L264.60 390.99 L266.60 390.49 L268.60 389.99 L270.60 389.48 L272.60 388.97 L274.60 388.46 L276.60 387.95 L278.60 387.43 L280.60 386.92 L282.60 386.39 L284.60 385.87 L286.60 385.34 L288.60 384.81 L290.60 384.28 L292.60 383.75 L294.60 383.21 L296.60 382.67 L298.60 382.13 L300.60 381.59 L302.60 381.04 L304.60 380.49 L306.60 379.94 L308.60 379.38 L310.60 378.83 L312.60 378.27 L314.60 377.71 L316.60 377.15 L318.60 376.58 L320.60 376.01 L322.60 375.44 L324.60 374.87 L326.60 374.29 L328.60 373.72 L330.60 373.14 L332.60 372.56 L334.60 371.97 L336.60 371.39 L338.60 370.80 L340.60 370.21 L342.60 369.62 L344.60 369.02 L346.60 368.43 L348.60 367.83 L350.60 367.23 L352.60 366.63 L354.60 366.02 L356.60 365.41 L358.60 364.81 L360.60 364.20 L362.60 363.58 L364.60 362.97 L366.60 362.35 L368.60 361.73 L370.60 361.11 L372.60 360.49 L374.60 359.87 L376.60 359.24 L378.60 358.62 L380.60 357.99 L382.60 357.36 L384.60 356.72 L386.60 356.09 L388.60 355.46 L390.60 354.83 L392.60 354.21 L394.60 353.58 L396.60 352.96 L398.60 352.35 L400.60 351.74 L402.60 351.14 L404.60 350.54 L406.60 349.96 L408.60 349.38 L410.60 348.81 L412.60 348.25 L414.60 347.70 L416.60 347.17 L418.60 346.64 L420.60 346.13 L422.60 345.64 L424.60 345.16 L426.60 344.69 L428.60 344.25 L430.60 343.81 L432.60 343.40 L434.60 343.01 L436.60 342.64 L438.60 342.28 L440.60 341.95 L442.60 341.64 L444.60 341.36 L446.60 341.10 L448.60 340.86 L450.60 340.65 L452.60 340.46 L454.60 340.30 L456.60 340.17 L458.60 340.07 L460.60 339.99 L462.60 339.95 L464.60 339.94 L466.60 339.96 L468.60 340.01 L470.60 340.09 L472.60 340.21 L474.60 340.37 L476.60 340.56 L478.60 340.78 L480.60 341.05 L482.60 341.35 L484.60 341.69 L486.60 342.06 L488.60 342.46 L490.60 342.89 L492.60 343.34 L494.60 343.81 L496.60 344.30 L498.60 344.80 L500.60 345.31 L502.60 345.83 L504.60 346.35 L506.60 346.87 L508.60 347.38 L510.60 347.89 L512.60 348.39 L514.60 348.88 L516.60 349.35 L518.60 349.79 L520.60 350.22 L522.60 350.61 L524.60 350.98 L526.60 351.31 L528.60 351.60 L530.60 351.86 L532.60 352.07 L534.60 352.25 L536.60 352.39 L538.60 352.49 L540.60 352.56 L542.60 352.60 L544.60 352.60 L546.60 352.58 L548.60 352.53 L550.60 352.46 L552.60 352.36 L554.60 352.24 L556.60 352.10 L558.60 351.93 L560.60 351.76 L562.60 351.56 L564.60 351.35 L566.60 351.12 L568.60 350.88 L570.60 350.62 L572.60 350.35 L574.60 350.06 L576.60 349.76 L578.60 349.44 L580.60 349.10 L582.60 348.75 L584.60 348.38 L586.60 348.00 L588.60 347.61 L590.60 347.19 L592.60 346.76 L594.60 346.32 L596.60 345.86 L598.60 345.39 L600.60 344.90 L602.60 344.39 L604.60 343.87 L606.60 343.34 L608.60 342.79 L610.60 342.22 L612.60 341.64 L614.60 341.04 L616.60 340.43 L618.60 339.80 L620.60 339.16 L622.60 338.51 L624.60 337.84 L626.60 337.15 L628.60 336.45 L630.60 335.73 L632.60 335.00 L634.60 334.26 L636.60 333.49 L638.60 332.72 L640.60 331.93 L642.60 331.12 L644.60 330.30 L646.60 329.47 L648.60 328.62 L650.60 327.76 L652.60 326.88 L654.00 326.25" stroke="#E86969" stroke-width="2.6" fill="none" stroke-linejoin="round"/><path d="M94.20 431.29 L96.20 430.60 L98.20 429.92 L100.20 429.25 L102.20 428.59 L104.20 427.93 L106.20 427.29 L108.20 426.65 L110.20 426.02 L112.20 425.39 L114.20 424.78 L116.20 424.17 L118.20 423.56 L120.20 422.97 L122.20 422.38 L124.20 421.80 L126.20 421.22 L128.20 420.65 L130.20 420.09 L132.20 419.54 L134.20 418.99 L136.20 418.44 L138.20 417.91 L140.20 417.38 L142.20 416.85 L144.20 416.33 L146.20 415.82 L148.20 415.31 L150.20 414.80 L152.20 414.31 L154.20 413.81 L156.20 413.33 L158.20 412.84 L160.20 412.36 L162.20 411.89 L164.20 411.42 L166.20 410.96 L168.20 410.50 L170.20 410.04 L172.20 409.59 L174.20 409.14 L176.20 408.70 L178.20 408.26 L180.20 407.83 L182.20 407.39 L184.20 406.96 L186.20 406.54 L188.20 406.12 L190.20 405.70 L192.20 405.28 L194.20 404.87 L196.20 404.46 L198.20 404.05 L200.20 403.65 L202.20 403.25 L204.20 402.85 L206.20 402.45 L208.20 402.05 L210.20 401.66 L212.20 401.27 L214.20 400.88 L216.20 400.49 L218.20 400.11 L220.20 399.73 L222.20 399.34 L224.20 398.96 L226.20 398.58 L228.20 398.20 L230.20 397.82 L232.20 397.45 L234.20 397.07 L236.20 396.70 L238.20 396.32 L240.20 395.95 L242.20 395.57 L244.20 395.20 L246.20 394.82 L248.20 394.45 L250.20 394.08 L252.20 393.70 L254.20 393.33 L256.20 392.95 L258.20 392.58 L260.20 392.20 L262.20 391.83 L264.20 391.45 L266.20 391.07 L268.20 390.69 L270.20 390.31 L272.20 389.93 L274.20 389.54 L276.20 389.16 L278.20 388.77 L280.20 388.38 L282.20 387.99 L284.20 387.60 L286.20 387.21 L288.20 386.81 L290.20 386.41 L292.20 386.01 L294.20 385.61 L296.20 385.20 L298.20 384.79 L300.20 384.38 L302.20 383.97 L304.20 383.55 L306.20 383.13 L308.20 382.71 L310.20 382.28 L312.20 381.86 L314.20 381.43 L316.20 381.00 L318.20 380.56 L320.20 380.13 L322.20 379.69 L324.20 379.25 L326.20 378.81 L328.20 378.37 L330.20 377.92 L332.20 377.48 L334.20 377.03 L336.20 376.59 L338.20 376.14 L340.20 375.69 L342.20 375.24 L344.20 374.79 L346.20 374.34 L348.20 373.89 L350.20 373.44 L352.20 372.99 L354.20 372.54 L356.20 372.09 L358.20 371.64 L360.20 371.19 L362.20 370.74 L364.20 370.29 L366.20 369.84 L368.20 369.39 L370.20 368.94 L372.20 368.50 L374.20 368.05 L376.20 367.61 L378.20 367.16 L380.20 366.72 L382.20 366.28 L384.20 365.85 L386.20 365.42 L388.20 364.99 L390.20 364.58 L392.20 364.17 L394.20 363.78 L396.20 363.39 L398.20 363.03 L400.20 362.68 L402.20 362.34 L404.20 362.03 L406.20 361.74 L408.20 361.47 L410.20 361.23 L412.20 361.01 L414.20 360.82 L416.20 360.67 L418.20 360.54 L420.20 360.44 L422.20 360.38 L424.20 360.36 L426.20 360.37 L428.20 360.43 L430.20 360.52 L432.20 360.66 L434.20 360.84 L436.20 361.07 L438.20 361.34 L440.20 361.66 L442.20 362.02 L444.20 362.42 L446.20 362.85 L448.20 363.32 L450.20 363.82 L452.20 364.35 L454.20 364.91 L456.20 365.49 L458.20 366.09 L460.20 366.71 L462.20 367.35 L464.20 368.00 L466.20 368.66 L468.20 369.33 L470.20 370.01 L472.20 370.69 L474.20 371.37 L476.20 372.05 L478.20 372.72 L480.20 373.39 L482.20 374.05 L484.20 374.70 L486.20 375.33 L488.20 375.95 L490.20 376.55 L492.20 377.12 L494.20 377.68 L496.20 378.20 L498.20 378.70 L500.20 379.17 L502.20 379.61 L504.20 380.02 L506.20 380.39 L508.20 380.74 L510.20 381.05 L512.20 381.32 L514.20 381.56 L516.20 381.77 L518.20 381.93 L520.20 382.06 L522.20 382.15 L524.20 382.20 L526.20 382.21 L528.20 382.17 L530.20 382.10 L532.20 381.97 L534.20 381.81 L536.20 381.60 L538.20 381.34 L540.20 381.04 L542.20 380.69 L544.20 380.30 L546.20 379.87 L548.20 379.40 L550.20 378.89 L552.20 378.34 L554.20 377.74 L556.20 377.11 L558.20 376.45 L560.20 375.74 L562.20 375.00 L564.20 374.22 L566.20 373.41 L568.20 372.56 L570.20 371.68 L572.20 370.77 L574.20 369.82 L576.20 368.84 L578.20 367.83 L580.20 366.79 L582.20 365.72 L584.20 364.63 L586.20 363.50 L588.20 362.35 L590.20 361.17 L592.20 359.96 L594.20 358.73 L596.20 357.47 L598.20 356.19 L600.20 354.89 L602.20 353.57 L604.20 352.22 L606.20 350.85 L608.20 349.46 L610.20 348.05 L612.20 346.63 L614.20 345.18 L616.20 343.72 L618.20 342.24 L620.20 340.74 L622.20 339.23 L624.20 337.70 L626.20 336.16 L628.20 334.61 L630.20 333.04 L632.20 331.46 L634.20 329.87 L636.20 328.27 L638.20 326.66 L640.20 325.04 L642.20 323.41 L644.20 321.77 L646.20 320.13 L648.20 318.48 L650.20 316.82 L652.20 315.16 L653.00 314.50" stroke="#A0AF28" stroke-width="2.5" fill="none" stroke-linejoin="round"/><path d="M365.70 441.74 L367.70 436.97 L369.70 432.26 L371.70 427.63 L373.70 423.06 L375.70 418.57 L377.70 414.14 L379.70 409.79 L381.70 405.51 L383.70 401.30 L385.70 397.16 L387.70 393.10 L389.70 389.10 L391.70 385.18 L393.70 381.32 L395.70 377.54 L397.70 373.83 L399.70 370.20 L401.70 366.63 L403.70 363.14 L405.70 359.72 L407.70 356.37 L409.70 353.09 L411.70 349.89 L413.70 346.75 L415.70 343.70 L417.70 340.71 L419.70 337.79 L421.70 334.95 L423.70 332.18 L425.70 329.49 L427.70 326.87 L429.70 324.32 L431.70 321.84 L433.70 319.44 L435.70 317.11 L437.70 314.85 L439.70 312.67 L441.70 310.56 L443.70 308.53 L445.70 306.57 L447.70 304.68 L449.70 302.87 L451.70 301.13 L453.70 299.46 L455.70 297.87 L457.70 296.36 L459.70 294.94 L461.70 293.59 L463.70 292.34 L465.70 291.18 L467.70 290.11 L469.70 289.14 L471.70 288.28 L473.70 287.52 L475.70 286.87 L477.70 286.33 L479.70 285.90 L481.70 285.60 L483.70 285.42 L485.70 285.36 L487.70 285.43 L489.70 285.64 L491.70 285.98 L493.70 286.46 L495.70 287.08 L497.70 287.85 L499.70 288.77 L501.70 289.84 L503.70 291.06 L505.70 292.44 L507.70 293.99 L509.70 295.70 L511.70 297.55 L513.70 299.52 L515.70 301.59 L517.70 303.73 L519.70 305.92 L521.70 308.13 L523.70 310.35 L525.70 312.54 L527.70 314.68 L529.70 316.75 L531.70 318.74 L533.70 320.65 L535.70 322.47 L537.70 324.21 L539.70 325.87 L541.70 327.45 L543.70 328.95 L545.70 330.38 L547.70 331.73 L549.70 333.00 L551.70 334.21 L553.70 335.34 L555.70 336.41 L557.70 337.41 L559.70 338.33 L561.70 339.20 L563.70 340.00 L565.70 340.73 L567.70 341.41 L569.70 342.02 L571.70 342.58 L573.70 343.07 L575.70 343.51 L577.70 343.90 L579.70 344.23 L581.70 344.51 L583.70 344.74 L585.70 344.92 L587.70 345.04 L589.70 345.13 L591.70 345.16 L593.70 345.16 L595.70 345.11 L597.70 345.01 L599.70 344.88 L601.70 344.71 L603.70 344.50 L605.70 344.25 L607.70 343.98 L609.70 343.68 L611.70 343.35 L613.70 343.00 L615.70 342.63 L617.70 342.25 L619.70 341.85 L621.70 341.44 L623.70 341.03 L625.70 340.61 L627.70 340.18 L629.70 339.76 L631.70 339.34 L633.70 338.93 L635.70 338.54 L637.70 338.15 L639.70 337.78 L641.70 337.43 L643.70 337.10 L645.70 336.79 L647.20 336.58" stroke="#55BEF5" stroke-width="2.6" fill="none" stroke-linejoin="round"/><path d="M94.20 384.47 L96.20 384.91 L98.20 385.33 L100.20 385.74 L102.20 386.12 L104.20 386.49 L106.20 386.83 L108.20 387.16 L110.20 387.47 L112.20 387.77 L114.20 388.04 L116.20 388.30 L118.20 388.54 L120.20 388.77 L122.20 388.98 L124.20 389.17 L126.20 389.35 L128.20 389.52 L130.20 389.66 L132.20 389.80 L134.20 389.92 L136.20 390.02 L138.20 390.12 L140.20 390.20 L142.20 390.26 L144.20 390.32 L146.20 390.36 L148.20 390.39 L150.20 390.41 L152.20 390.41 L154.20 390.41 L156.20 390.39 L158.20 390.37 L160.20 390.33 L162.20 390.28 L164.20 390.23 L166.20 390.16 L168.20 390.09 L170.20 390.01 L172.20 389.91 L174.20 389.82 L176.20 389.71 L178.20 389.59 L180.20 389.47 L182.20 389.35 L184.20 389.21 L186.20 389.07 L188.20 388.92 L190.20 388.77 L192.20 388.61 L194.20 388.45 L196.20 388.28 L198.20 388.11 L200.20 387.94 L202.20 387.76 L204.20 387.57 L206.20 387.39 L208.20 387.20 L210.20 387.00 L212.20 386.80 L214.20 386.60 L216.20 386.39 L218.20 386.18 L220.20 385.96 L222.20 385.74 L224.20 385.52 L226.20 385.29 L228.20 385.05 L230.20 384.81 L232.20 384.57 L234.20 384.32 L236.20 384.06 L238.20 383.80 L240.20 383.54 L242.20 383.27 L244.20 382.99 L246.20 382.71 L248.20 382.43 L250.20 382.13 L252.20 381.84 L254.20 381.53 L256.20 381.23 L258.20 380.91 L260.20 380.59 L262.20 380.26 L264.20 379.93 L266.20 379.59 L268.20 379.25 L270.20 378.90 L272.20 378.54 L274.20 378.18 L276.20 377.80 L278.20 377.43 L280.20 377.04 L282.20 376.65 L284.20 376.26 L286.20 375.85 L288.20 375.44 L290.20 375.02 L292.20 374.60 L294.20 374.17 L296.20 373.73 L298.20 373.28 L300.20 372.83 L302.20 372.37 L304.20 371.90 L306.20 371.42 L308.20 370.94 L310.20 370.45 L312.20 369.95 L314.20 369.45 L316.20 368.93 L318.20 368.42 L320.20 367.89 L322.20 367.36 L324.20 366.82 L326.20 366.28 L328.20 365.73 L330.20 365.17 L332.20 364.61 L334.20 364.04 L336.20 363.46 L338.20 362.88 L340.20 362.30 L342.20 361.70 L344.20 361.10 L346.20 360.50 L348.20 359.89 L350.20 359.28 L352.20 358.66 L354.20 358.03 L356.20 357.40 L358.20 356.76 L360.20 356.12 L362.20 355.47 L364.20 354.82 L366.20 354.17 L368.20 353.51 L370.20 352.84 L372.20 352.17 L374.20 351.50 L376.20 350.82 L378.20 350.14 L380.20 349.45 L382.20 348.77 L384.20 348.08 L386.20 347.40 L388.20 346.73 L390.20 346.05 L392.20 345.39 L394.20 344.73 L396.20 344.08 L398.20 343.44 L400.20 342.82 L402.20 342.20 L404.20 341.61 L406.20 341.03 L408.20 340.47 L410.20 339.92 L412.20 339.40 L414.20 338.90 L416.20 338.43 L418.20 337.98 L420.20 337.56 L422.20 337.16 L424.20 336.80 L426.20 336.46 L428.20 336.16 L430.20 335.89 L432.20 335.66 L434.20 335.46 L436.20 335.31 L438.20 335.19 L440.20 335.11 L442.20 335.06 L444.20 335.05 L446.20 335.08 L448.20 335.13 L450.20 335.22 L452.20 335.34 L454.20 335.49 L456.20 335.66 L458.20 335.86 L460.20 336.08 L462.20 336.33 L464.20 336.60 L466.20 336.89 L468.20 337.20 L470.20 337.53 L472.20 337.87 L474.20 338.23 L476.20 338.61 L478.20 338.99 L480.20 339.39 L482.20 339.80 L484.20 340.22 L486.20 340.65 L488.20 341.08 L490.20 341.51 L492.20 341.96 L494.20 342.40 L496.20 342.84 L498.20 343.29 L500.20 343.73 L502.20 344.17 L504.20 344.61 L506.20 345.04 L508.20 345.46 L510.20 345.88 L512.20 346.28 L514.20 346.68 L516.20 347.06 L518.20 347.43 L520.20 347.79 L522.20 348.13 L524.20 348.45 L526.20 348.76 L528.20 349.05 L530.20 349.31 L532.20 349.55 L534.20 349.77 L536.20 349.96 L538.20 350.13 L540.20 350.27 L542.20 350.38 L544.20 350.46 L546.20 350.51 L548.20 350.53 L550.20 350.51 L552.20 350.45 L554.20 350.37 L556.20 350.24 L558.20 350.08 L560.20 349.89 L562.20 349.66 L564.20 349.39 L566.20 349.09 L568.20 348.76 L570.20 348.39 L572.20 347.98 L574.20 347.54 L576.20 347.06 L578.20 346.55 L580.20 346.00 L582.20 345.41 L584.20 344.79 L586.20 344.14 L588.20 343.44 L590.20 342.72 L592.20 341.95 L594.20 341.15 L596.20 340.32 L598.20 339.45 L600.20 338.54 L602.20 337.60 L604.20 336.62 L606.20 335.61 L608.20 334.56 L610.20 333.47 L612.20 332.35 L614.20 331.19 L616.20 330.00 L618.20 328.77 L620.20 327.50 L622.20 326.20 L624.20 324.86 L626.20 323.49 L628.20 322.08 L630.20 320.63 L632.20 319.15 L634.20 317.63 L636.20 316.08 L638.20 314.48 L640.20 312.86 L642.20 311.19 L644.20 309.49 L646.20 307.75 L648.20 305.98 L650.20 304.17 L652.20 302.33 L654.00 300.63 L654.00 356.59 L652.20 356.69 L650.20 356.81 L648.20 356.94 L646.20 357.08 L644.20 357.22 L642.20 357.37 L640.20 357.53 L638.20 357.70 L636.20 357.87 L634.20 358.05 L632.20 358.24 L630.20 358.43 L628.20 358.62 L626.20 358.82 L624.20 359.02 L622.20 359.23 L620.20 359.44 L618.20 359.65 L616.20 359.87 L614.20 360.08 L612.20 360.30 L610.20 360.52 L608.20 360.74 L606.20 360.96 L604.20 361.18 L602.20 361.40 L600.20 361.62 L598.20 361.83 L596.20 362.05 L594.20 362.26 L592.20 362.47 L590.20 362.67 L588.20 362.88 L586.20 363.07 L584.20 363.27 L582.20 363.46 L580.20 363.64 L578.20 363.82 L576.20 363.99 L574.20 364.16 L572.20 364.32 L570.20 364.47 L568.20 364.61 L566.20 364.75 L564.20 364.88 L562.20 365.00 L560.20 365.11 L558.20 365.20 L556.20 365.29 L554.20 365.37 L552.20 365.44 L550.20 365.50 L548.20 365.54 L546.20 365.57 L544.20 365.59 L542.20 365.60 L540.20 365.59 L538.20 365.57 L536.20 365.53 L534.20 365.48 L532.20 365.42 L530.20 365.33 L528.20 365.24 L526.20 365.12 L524.20 364.99 L522.20 364.84 L520.20 364.68 L518.20 364.50 L516.20 364.29 L514.20 364.07 L512.20 363.83 L510.20 363.57 L508.20 363.29 L506.20 363.00 L504.20 362.69 L502.20 362.37 L500.20 362.04 L498.20 361.70 L496.20 361.34 L494.20 360.98 L492.20 360.62 L490.20 360.25 L488.20 359.87 L486.20 359.50 L484.20 359.12 L482.20 358.74 L480.20 358.37 L478.20 358.00 L476.20 357.63 L474.20 357.27 L472.20 356.92 L470.20 356.58 L468.20 356.24 L466.20 355.92 L464.20 355.62 L462.20 355.32 L460.20 355.05 L458.20 354.79 L456.20 354.55 L454.20 354.33 L452.20 354.13 L450.20 353.96 L448.20 353.81 L446.20 353.68 L444.20 353.59 L442.20 353.52 L440.20 353.48 L438.20 353.47 L436.20 353.50 L434.20 353.56 L432.20 353.66 L430.20 353.79 L428.20 353.96 L426.20 354.17 L424.20 354.43 L422.20 354.72 L420.20 355.06 L418.20 355.45 L416.20 355.87 L414.20 356.33 L412.20 356.83 L410.20 357.37 L408.20 357.94 L406.20 358.53 L404.20 359.16 L402.20 359.82 L400.20 360.50 L398.20 361.20 L396.20 361.93 L394.20 362.68 L392.20 363.44 L390.20 364.22 L388.20 365.01 L386.20 365.81 L384.20 366.62 L382.20 367.44 L380.20 368.27 L378.20 369.10 L376.20 369.93 L374.20 370.76 L372.20 371.59 L370.20 372.42 L368.20 373.24 L366.20 374.05 L364.20 374.85 L362.20 375.63 L360.20 376.41 L358.20 377.18 L356.20 377.93 L354.20 378.67 L352.20 379.41 L350.20 380.13 L348.20 380.84 L346.20 381.54 L344.20 382.23 L342.20 382.91 L340.20 383.58 L338.20 384.24 L336.20 384.90 L334.20 385.54 L332.20 386.18 L330.20 386.80 L328.20 387.42 L326.20 388.03 L324.20 388.64 L322.20 389.23 L320.20 389.82 L318.20 390.40 L316.20 390.98 L314.20 391.55 L312.20 392.11 L310.20 392.66 L308.20 393.21 L306.20 393.76 L304.20 394.30 L302.20 394.83 L300.20 395.36 L298.20 395.88 L296.20 396.40 L294.20 396.92 L292.20 397.43 L290.20 397.94 L288.20 398.44 L286.20 398.94 L284.20 399.44 L282.20 399.94 L280.20 400.43 L278.20 400.92 L276.20 401.41 L274.20 401.89 L272.20 402.38 L270.20 402.86 L268.20 403.34 L266.20 403.82 L264.20 404.30 L262.20 404.78 L260.20 405.26 L258.20 405.74 L256.20 406.22 L254.20 406.69 L252.20 407.17 L250.20 407.65 L248.20 408.14 L246.20 408.62 L244.20 409.10 L242.20 409.59 L240.20 410.08 L238.20 410.57 L236.20 411.06 L234.20 411.56 L232.20 412.05 L230.20 412.56 L228.20 413.06 L226.20 413.57 L224.20 414.08 L222.20 414.60 L220.20 415.12 L218.20 415.65 L216.20 416.18 L214.20 416.71 L212.20 417.25 L210.20 417.80 L208.20 418.35 L206.20 418.91 L204.20 419.47 L202.20 420.04 L200.20 420.62 L198.20 421.21 L196.20 421.80 L194.20 422.40 L192.20 423.00 L190.20 423.62 L188.20 424.24 L186.20 424.87 L184.20 425.51 L182.20 426.16 L180.20 426.81 L178.20 427.48 L176.20 428.16 L174.20 428.84 L172.20 429.54 L170.20 430.24 L168.20 430.96 L166.20 431.69 L164.20 432.42 L162.20 433.17 L160.20 433.93 L158.20 434.71 L156.20 435.49 L154.20 436.28 L152.20 437.09 L150.20 437.91 L148.20 438.75 L146.20 439.59 L144.20 440.45 L142.20 441.32 L140.20 442.21 L138.20 443.11 L136.20 444.03 L134.20 444.96 L132.20 445.90 L130.20 446.86 L128.20 447.83 L126.20 448.82 L124.20 449.83 L122.20 450.85 L120.20 451.88 L118.20 452.94 L116.20 454.01 L114.20 455.09 L112.20 456.19 L110.20 457.31 L108.20 458.45 L106.20 459.61 L104.20 460.78 L102.20 461.97 L100.20 463.18 L98.20 464.41 L96.20 465.66 L94.20 466.92 Z" fill="#999999" fill-opacity="0.4"/><path d="M94.20 424.64 L96.20 424.18 L98.20 423.72 L100.20 423.27 L102.20 422.82 L104.20 422.38 L106.20 421.94 L108.20 421.51 L110.20 421.08 L112.20 420.66 L114.20 420.24 L116.20 419.82 L118.20 419.41 L120.20 419.00 L122.20 418.60 L124.20 418.20 L126.20 417.80 L128.20 417.41 L130.20 417.02 L132.20 416.63 L134.20 416.24 L136.20 415.86 L138.20 415.49 L140.20 415.11 L142.20 414.74 L144.20 414.37 L146.20 414.00 L148.20 413.63 L150.20 413.27 L152.20 412.91 L154.20 412.55 L156.20 412.19 L158.20 411.84 L160.20 411.48 L162.20 411.13 L164.20 410.78 L166.20 410.43 L168.20 410.08 L170.20 409.73 L172.20 409.39 L174.20 409.04 L176.20 408.70 L178.20 408.35 L180.20 408.01 L182.20 407.66 L184.20 407.32 L186.20 406.98 L188.20 406.63 L190.20 406.29 L192.20 405.95 L194.20 405.60 L196.20 405.26 L198.20 404.92 L200.20 404.57 L202.20 404.22 L204.20 403.88 L206.20 403.53 L208.20 403.18 L210.20 402.83 L212.20 402.48 L214.20 402.13 L216.20 401.77 L218.20 401.42 L220.20 401.06 L222.20 400.70 L224.20 400.34 L226.20 399.98 L228.20 399.61 L230.20 399.24 L232.20 398.87 L234.20 398.50 L236.20 398.12 L238.20 397.74 L240.20 397.36 L242.20 396.98 L244.20 396.59 L246.20 396.20 L248.20 395.81 L250.20 395.41 L252.20 395.01 L254.20 394.60 L256.20 394.20 L258.20 393.78 L260.20 393.37 L262.20 392.95 L264.20 392.52 L266.20 392.09 L268.20 391.66 L270.20 391.22 L272.20 390.78 L274.20 390.33 L276.20 389.88 L278.20 389.42 L280.20 388.96 L282.20 388.49 L284.20 388.02 L286.20 387.54 L288.20 387.06 L290.20 386.57 L292.20 386.07 L294.20 385.57 L296.20 385.06 L298.20 384.55 L300.20 384.03 L302.20 383.50 L304.20 382.97 L306.20 382.43 L308.20 381.88 L310.20 381.33 L312.20 380.77 L314.20 380.20 L316.20 379.63 L318.20 379.05 L320.20 378.46 L322.20 377.86 L324.20 377.26 L326.20 376.65 L328.20 376.03 L330.20 375.40 L332.20 374.77 L334.20 374.12 L336.20 373.47 L338.20 372.81 L340.20 372.14 L342.20 371.46 L344.20 370.78 L346.20 370.08 L348.20 369.38 L350.20 368.67 L352.20 367.95 L354.20 367.22 L356.20 366.49 L358.20 365.75 L360.20 365.01 L362.20 364.27 L364.20 363.53 L366.20 362.78 L368.20 362.04 L370.20 361.30 L372.20 360.56 L374.20 359.82 L376.20 359.09 L378.20 358.36 L380.20 357.64 L382.20 356.92 L384.20 356.22 L386.20 355.52 L388.20 354.83 L390.20 354.15 L392.20 353.49 L394.20 352.83 L396.20 352.19 L398.20 351.57 L400.20 350.96 L402.20 350.37 L404.20 349.79 L406.20 349.23 L408.20 348.70 L410.20 348.18 L412.20 347.68 L414.20 347.21 L416.20 346.76 L418.20 346.33 L420.20 345.93 L422.20 345.56 L424.20 345.21 L426.20 344.89 L428.20 344.60 L430.20 344.34 L432.20 344.11 L434.20 343.91 L436.20 343.74 L438.20 343.61 L440.20 343.51 L442.20 343.45 L444.20 343.42 L446.20 343.44 L448.20 343.49 L450.20 343.57 L452.20 343.69 L454.20 343.84 L456.20 344.02 L458.20 344.23 L460.20 344.47 L462.20 344.74 L464.20 345.03 L466.20 345.34 L468.20 345.68 L470.20 346.04 L472.20 346.41 L474.20 346.80 L476.20 347.21 L478.20 347.63 L480.20 348.07 L482.20 348.51 L484.20 348.97 L486.20 349.43 L488.20 349.90 L490.20 350.38 L492.20 350.86 L494.20 351.34 L496.20 351.82 L498.20 352.30 L500.20 352.78 L502.20 353.25 L504.20 353.72 L506.20 354.18 L508.20 354.63 L510.20 355.07 L512.20 355.50 L514.20 355.92 L516.20 356.32 L518.20 356.71 L520.20 357.08 L522.20 357.42 L524.20 357.75 L526.20 358.06 L528.20 358.34 L530.20 358.59 L532.20 358.82 L534.20 359.02 L536.20 359.19 L538.20 359.33 L540.20 359.43 L542.20 359.51 L544.20 359.54 L546.20 359.54 L548.20 359.50 L550.20 359.42 L552.20 359.30 L554.20 359.16 L556.20 358.98 L558.20 358.76 L560.20 358.51 L562.20 358.24 L564.20 357.93 L566.20 357.59 L568.20 357.23 L570.20 356.84 L572.20 356.42 L574.20 355.98 L576.20 355.52 L578.20 355.03 L580.20 354.52 L582.20 353.99 L584.20 353.44 L586.20 352.87 L588.20 352.28 L590.20 351.67 L592.20 351.05 L594.20 350.42 L596.20 349.77 L598.20 349.10 L600.20 348.43 L602.20 347.74 L604.20 347.05 L606.20 346.34 L608.20 345.63 L610.20 344.91 L612.20 344.18 L614.20 343.45 L616.20 342.71 L618.20 341.97 L620.20 341.23 L622.20 340.49 L624.20 339.75 L626.20 339.00 L628.20 338.26 L630.20 337.53 L632.20 336.79 L634.20 336.06 L636.20 335.34 L638.20 334.62 L640.20 333.91 L642.20 333.21 L644.20 332.52 L646.20 331.84 L648.20 331.18 L650.20 330.52 L652.20 329.88 L654.00 329.31" stroke="#000" stroke-width="2.55" fill="none" stroke-linejoin="round"/></g><path d="M64.8 15.5H684.0" stroke="#747474" stroke-width="1.07"/><path d="M64.8 456.3H684.0" stroke="#666" stroke-width="1.07"/><path d="M65.3 15.5V456.3" stroke="#8c8c8c" stroke-width="1.07"/><path d="M683.5 15.5V456.3" stroke="#6a6a6a" stroke-width="1.07"/><path d="M62.099999999999994 362.45H65.3M62.099999999999994 289.22H65.3M62.099999999999994 215.99H65.3M62.099999999999994 142.76H65.3M62.099999999999994 69.53H65.3M137.30 456.3V459.5M223.36 456.3V459.5M309.42 456.3V459.5M395.48 456.3V459.5M481.54 456.3V459.5M567.60 456.3V459.5M653.66 456.3V459.5" stroke="#333" stroke-width="1.07" fill="none"/><text x="59.8" y="366.35" font-size="10" fill="#4d4d4d" text-anchor="end">50</text><text x="59.8" y="293.12" font-size="10" fill="#4d4d4d" text-anchor="end">100</text><text x="59.8" y="219.89" font-size="10" fill="#4d4d4d" text-anchor="end">150</text><text x="59.8" y="146.66" font-size="10" fill="#4d4d4d" text-anchor="end">200</text><text x="59.8" y="73.43" font-size="10" fill="#4d4d4d" text-anchor="end">250</text><text x="137.30" y="469.6" font-size="10" fill="#4d4d4d" text-anchor="middle">2012</text><text x="223.36" y="469.6" font-size="10" fill="#4d4d4d" text-anchor="middle">2014</text><text x="309.42" y="469.6" font-size="10" fill="#4d4d4d" text-anchor="middle">2016</text><text x="395.48" y="469.6" font-size="10" fill="#4d4d4d" text-anchor="middle">2018</text><text x="481.54" y="469.6" font-size="10" fill="#4d4d4d" text-anchor="middle">2020</text><text x="567.60" y="469.6" font-size="10" fill="#4d4d4d" text-anchor="middle">2022</text><text x="653.66" y="469.6" font-size="10" fill="#4d4d4d" text-anchor="middle">2024</text><text x="374.4" y="483.9" font-size="12.35" fill="#000" class="t" text-anchor="middle">Date of Death</text><text transform="translate(37.2 236) rotate(-90)" x="0" y="0" font-size="12.35" fill="#000" class="t" text-anchor="middle">Survival (months)</text><text transform="translate(1.1 16.9) scale(0.849 1)" font-size="23.3" fill="#000">A</text><text x="163.6" y="55.8" font-size="12.35" fill="#000" class="t">Category</text><circle cx="173.2" cy="72.90" r="2.8" fill="#E86969" fill-opacity="0.55"/><text x="189.5" y="76.80" font-size="10" fill="#000">IA</text><circle cx="173.2" cy="92.58" r="2.8" fill="#A0AF28" fill-opacity="0.55"/><text x="189.5" y="96.48" font-size="10" fill="#000">IB</text><circle cx="173.2" cy="112.26" r="2.8" fill="#50D787" fill-opacity="0.55"/><text x="189.5" y="116.16" font-size="10" fill="#000">IC</text><circle cx="173.2" cy="131.94" r="2.8" fill="#55BEF5" fill-opacity="0.55"/><text x="189.5" y="135.84" font-size="10" fill="#000">II</text><circle cx="173.2" cy="151.62" r="2.8" fill="#E669FA" fill-opacity="0.55"/><text x="189.5" y="155.52" font-size="10" fill="#000">III</text><text transform="translate(1.6 532.8) scale(0.79 1)" font-size="23.3" fill="#000">B</text><text x="257.4" y="526.7" font-size="12.2" fill="#000" class="t">Strata</text><line x1="299.0" y1="522.5" x2="314.7" y2="522.5" stroke="#E86969" stroke-width="2.3"/><text x="323.0" y="526.4" font-size="10" fill="#000">IA</text><line x1="340.1" y1="522.5" x2="355.8" y2="522.5" stroke="#A0AF28" stroke-width="2.3"/><text x="364.8" y="526.4" font-size="10" fill="#000">IB</text><line x1="382.0" y1="522.5" x2="397.7" y2="522.5" stroke="#50D787" stroke-width="2.3"/><text x="406.6" y="526.4" font-size="10" fill="#000">IC</text><line x1="424.1" y1="522.5" x2="439.8" y2="522.5" stroke="#55BEF5" stroke-width="2.3"/><text x="448.8" y="526.4" font-size="10" fill="#000">II</text><line x1="462.0" y1="522.5" x2="477.7" y2="522.5" stroke="#E669FA" stroke-width="2.3"/><text x="486.3" y="526.4" font-size="10" fill="#000">III</text><rect x="74.6" y="551.5" width="195.3" height="18.0" fill="#fff" stroke="#000" stroke-width="1.5"/><text x="172.25" y="564.3" font-size="10" fill="#1a1a1a" text-anchor="middle">group: -2018</text><rect x="277.90000000000003" y="551.5" width="195.3" height="18.0" fill="#fff" stroke="#000" stroke-width="1.5"/><text x="375.55" y="564.3" font-size="10" fill="#1a1a1a" text-anchor="middle">group: 2019-2021</text><rect x="481.40000000000003" y="551.5" width="195.3" height="18.0" fill="#fff" stroke="#000" stroke-width="1.5"/><text x="579.05" y="564.3" font-size="10" fill="#1a1a1a" text-anchor="middle">group: 2022-</text><path d="M82.80 587.90 L83.20 587.90 L83.20 591.27 L83.60 591.27 L83.60 594.63 L84.00 594.63 L84.00 598.00 L85.00 598.00 L85.00 603.00 L86.00 603.00 L86.00 608.00 L86.55 608.00 L86.55 611.00 L87.10 611.00 L87.10 614.00 L87.57 614.00 L87.57 617.67 L88.03 617.67 L88.03 621.33 L88.50 621.33 L88.50 625.00 L88.86 625.00 L88.86 629.00 L89.22 629.00 L89.22 633.00 L89.58 633.00 L89.58 637.00 L89.94 637.00 L89.94 641.00 L90.30 641.00 L90.30 645.00 L90.77 645.00 L90.77 649.33 L91.23 649.33 L91.23 653.67 L91.70 653.67 L91.70 658.00 L92.50 658.00 L92.50 662.00 L93.70 662.00 L93.70 667.00 L94.90 667.00 L94.90 672.00 L95.55 672.00 L95.55 676.00 L96.20 676.00 L96.20 680.00 L96.80 680.00 L96.80 685.00 L97.40 685.00 L97.40 690.00 L97.85 690.00 L97.85 693.75 L98.30 693.75 L98.30 697.50 L98.75 697.50 L98.75 701.25 L99.20 701.25 L99.20 705.00 L101.00 705.00 L101.00 710.00 L101.95 710.00 L101.95 715.00 L102.90 715.00 L102.90 720.00 L103.95 720.00 L103.95 723.75 L105.00 723.75 L105.00 727.50 L106.05 727.50 L106.05 731.25 L107.10 731.25 L107.10 735.00 L107.55 735.00 L107.55 738.75 L108.00 738.75 L108.00 742.50 L108.45 742.50 L108.45 746.25 L108.90 746.25 L108.90 750.00 L110.45 750.00 L110.45 755.00 L112.00 755.00 L112.00 760.00 L112.60 760.00 L112.60 765.00 L113.20 765.00 L113.20 770.00 L114.10 770.00 L114.10 775.00 L115.00 775.00 L115.00 780.00 L116.67 780.00 L116.67 784.00 L118.33 784.00 L118.33 788.00 L120.00 788.00 L120.00 792.00 L121.20 792.00 L121.20 796.33 L122.40 796.33 L122.40 800.67 L123.60 800.67 L123.60 805.00 L125.05 805.00 L125.05 808.75 L126.50 808.75 L126.50 812.50 L127.95 812.50 L127.95 816.25 L129.40 816.25 L129.40 820.00 L129.93 820.00 L129.93 824.50 L130.45 824.50 L130.45 829.00 L130.97 829.00 L130.97 833.50 L131.50 833.50 L131.50 838.00 L132.00 838.00 L132.00 841.50 L132.50 841.50 L132.50 845.00 L134.15 845.00 L134.15 848.25 L135.80 848.25 L135.80 851.50 L137.17 851.50 L137.17 855.53 L138.53 855.53 L138.53 859.57 L139.90 859.57 L139.90 863.60 L143.50 863.60 L143.50 865.65 L147.10 865.65 L147.10 867.70 L148.15 867.70 L148.15 871.35 L149.20 871.35 L149.20 875.00 L153.60 875.00 L153.60 880.60 L154.20 880.60 L154.20 884.65 L154.80 884.65 L154.80 888.70 L160.10 888.70 L160.10 893.60 L164.10 893.60 L164.10 896.80 L169.80 896.80 L169.80 897.60 L171.00 897.60 L171.00 902.05 L172.20 902.05 L172.20 906.50 L175.00 906.50 L175.00 909.80 L177.70 909.80 L177.70 915.00 L181.20 915.00 L181.20 917.20 L184.70 917.20 L184.70 919.40 L212.80 919.40 L212.80 926.40 L233.80 926.40 L233.80 930.60 L242.50 930.60 L242.50 938.30" stroke="#E86969" stroke-width="2.3" fill="none" stroke-linejoin="miter" stroke-linecap="butt"/><path d="M82.80 587.90 L82.97 587.90 L82.97 592.17 L83.15 592.17 L83.15 596.45 L83.33 596.45 L83.33 600.73 L83.50 600.73 L83.50 605.00 L83.65 605.00 L83.65 609.17 L83.80 609.17 L83.80 613.33 L83.95 613.33 L83.95 617.50 L84.10 617.50 L84.10 621.67 L84.25 621.67 L84.25 625.83 L84.40 625.83 L84.40 630.00 L84.72 630.00 L84.72 634.00 L85.04 634.00 L85.04 638.00 L85.36 638.00 L85.36 642.00 L85.68 642.00 L85.68 646.00 L86.00 646.00 L86.00 650.00 L86.75 650.00 L86.75 655.00 L87.50 655.00 L87.50 660.00 L87.90 660.00 L87.90 664.00 L88.30 664.00 L88.30 668.00 L88.30 675.80 L90.70 675.80 L90.70 684.30 L94.30 684.30 L94.30 692.80 L97.40 692.80 L97.40 700.00 L101.00 700.00 L101.00 702.60 L101.63 702.60 L101.63 707.07 L102.27 707.07 L102.27 711.53 L102.90 711.53 L102.90 716.00 L104.10 716.00 L104.10 719.65 L105.30 719.65 L105.30 723.30 L105.54 723.30 L105.54 727.68 L105.78 727.68 L105.78 732.06 L106.02 732.06 L106.02 736.44 L106.26 736.44 L106.26 740.82 L106.50 740.82 L106.50 745.20 L106.80 745.20 L106.80 749.60 L107.10 749.60 L107.10 754.00 L107.40 754.00 L107.40 758.40 L107.70 758.40 L107.70 762.80 L113.20 762.80 L113.20 772.00 L114.70 772.00 L114.70 776.00 L116.20 776.00 L116.20 780.00 L117.47 780.00 L117.47 784.53 L118.73 784.53 L118.73 789.07 L120.00 789.07 L120.00 793.60 L120.47 793.60 L120.47 797.97 L120.93 797.97 L120.93 802.33 L121.40 802.33 L121.40 806.70 L122.80 806.70 L122.80 850.80 L133.40 850.80 L133.40 859.20 L138.60 859.20 L138.60 868.50 L143.10 868.50 L143.10 877.40 L144.70 877.40 L144.70 885.90 L150.40 885.90 L150.40 894.40 L158.10 894.40 L158.10 903.30 L161.00 903.30 L161.00 911.40 L165.00 911.40 L165.00 920.90 L178.90 920.90 L178.90 929.40 L233.30 929.40 L233.30 938.30" stroke="#A0AF28" stroke-width="2.3" fill="none" stroke-linejoin="miter" stroke-linecap="butt"/><path d="M82.80 587.90 L83.20 587.90 L83.20 591.93 L83.60 591.93 L83.60 595.97 L84.00 595.97 L84.00 600.00 L84.30 600.00 L84.30 604.00 L84.60 604.00 L84.60 608.00 L84.90 608.00 L84.90 612.00 L85.20 612.00 L85.20 616.00 L85.50 616.00 L85.50 620.00 L85.74 620.00 L85.74 624.00 L85.98 624.00 L85.98 628.00 L86.22 628.00 L86.22 632.00 L86.46 632.00 L86.46 636.00 L86.70 636.00 L86.70 640.00 L87.10 640.00 L87.10 643.75 L87.50 643.75 L87.50 647.50 L87.90 647.50 L87.90 651.25 L88.30 651.25 L88.30 655.00 L88.30 664.00 L89.70 664.00 L89.70 667.53 L91.10 667.53 L91.10 671.07 L92.50 671.07 L92.50 674.60 L93.33 674.60 L93.33 678.23 L94.17 678.23 L94.17 681.87 L95.00 681.87 L95.00 685.50 L97.40 685.50 L97.40 690.00 L97.40 705.00 L103.60 705.00 L103.60 724.00 L111.40 724.00 L111.40 733.00 L113.20 733.00 L113.20 742.70 L115.90 742.70 L115.90 763.40 L117.50 763.40 L117.50 773.10 L119.90 773.10 L119.90 780.00 L120.64 780.00 L120.64 784.00 L121.38 784.00 L121.38 788.00 L122.12 788.00 L122.12 792.00 L122.86 792.00 L122.86 796.00 L123.60 796.00 L123.60 800.00 L124.76 800.00 L124.76 804.00 L125.92 804.00 L125.92 808.00 L127.08 808.00 L127.08 812.00 L128.24 812.00 L128.24 816.00 L129.40 816.00 L129.40 820.00 L129.70 820.00 L129.70 824.20 L130.00 824.20 L130.00 828.40 L130.30 828.40 L130.30 832.60 L130.60 832.60 L130.60 836.80 L130.90 836.80 L130.90 841.00 L137.20 841.00 L137.20 850.70 L145.50 850.70 L145.50 860.80 L150.80 860.80 L150.80 879.40 L156.20 879.40 L156.20 900.10 L161.90 900.10 L161.90 918.80 L190.60 918.80 L190.60 928.70 L204.10 928.70 L204.10 938.30" stroke="#50D787" stroke-width="2.3" fill="none" stroke-linejoin="miter" stroke-linecap="butt"/><path d="M82.80 587.90 L83.50 587.90 L83.50 620.00 L85.70 620.00 L85.70 657.70 L99.00 657.70 L99.00 693.00 L105.30 693.00 L105.30 798.20 L127.70 798.20 L127.70 833.00 L154.70 833.00 L154.70 867.80 L163.20 867.80 L163.20 903.30 L246.00 903.30 L246.00 938.30" stroke="#55BEF5" stroke-width="2.3" fill="none" stroke-linejoin="miter" stroke-linecap="butt"/><path d="M82.80 587.90 L83.00 587.90 L83.00 626.70 L86.70 626.70 L86.70 646.30 L91.20 646.30 L91.20 665.20 L98.80 665.20 L98.80 685.50 L100.50 685.50 L100.50 704.40 L103.80 704.40 L103.80 723.90 L119.40 723.90 L119.40 762.80 L127.10 762.80 L127.10 782.60 L136.40 782.60 L136.40 802.30 L137.40 802.30 L137.40 822.00 L138.60 822.00 L138.60 840.60 L148.70 840.60 L148.70 860.40 L177.30 860.40 L177.30 879.70 L183.10 879.70 L183.10 899.50 L184.70 899.50 L184.70 918.90 L187.60 918.90 L187.60 938.30" stroke="#E669FA" stroke-width="2.3" fill="none" stroke-linejoin="miter" stroke-linecap="butt"/><path d="M285.70 587.90 L290.30 588.00 L294.60 588.00 L294.60 593.40 L295.80 593.40 L295.80 597.05 L297.00 597.05 L297.00 600.70 L297.60 600.70 L297.60 605.13 L298.20 605.13 L298.20 609.57 L298.80 609.57 L298.80 614.00 L301.30 614.00 L301.60 614.00 L301.60 617.65 L301.90 617.65 L301.90 621.30 L302.20 621.30 L302.20 624.95 L302.50 624.95 L302.50 628.60 L303.10 628.60 L303.10 632.88 L303.70 632.88 L303.70 637.15 L304.30 637.15 L304.30 641.43 L304.90 641.43 L304.90 645.70 L305.40 645.70 L305.40 649.58 L305.90 649.58 L305.90 653.46 L306.40 653.46 L306.40 657.34 L306.90 657.34 L306.90 661.22 L307.40 661.22 L307.40 665.10 L308.60 665.10 L308.60 669.95 L309.80 669.95 L309.80 674.80 L311.00 674.80 L311.00 677.85 L312.20 677.85 L312.20 680.90 L312.40 680.90 L312.40 684.57 L312.60 684.57 L312.60 688.23 L312.80 688.23 L312.80 691.90 L313.80 691.90 L313.80 695.95 L314.80 695.95 L314.80 700.00 L315.38 700.00 L315.38 704.00 L315.96 704.00 L315.96 708.00 L316.54 708.00 L316.54 712.00 L317.12 712.00 L317.12 716.00 L317.70 716.00 L317.70 720.00 L318.14 720.00 L318.14 724.00 L318.58 724.00 L318.58 728.00 L319.02 728.00 L319.02 732.00 L319.46 732.00 L319.46 736.00 L319.90 736.00 L319.90 740.00 L320.48 740.00 L320.48 744.00 L321.06 744.00 L321.06 748.00 L321.64 748.00 L321.64 752.00 L322.22 752.00 L322.22 756.00 L322.80 756.00 L322.80 760.00 L323.54 760.00 L323.54 764.00 L324.28 764.00 L324.28 768.00 L325.02 768.00 L325.02 772.00 L325.76 772.00 L325.76 776.00 L326.50 776.00 L326.50 780.00 L328.70 780.00 L328.70 785.00 L330.90 785.00 L330.90 790.00 L332.70 790.00 L332.70 795.00 L334.50 795.00 L334.50 800.00 L336.35 800.00 L336.35 805.00 L338.20 805.00 L338.20 810.00 L339.65 810.00 L339.65 815.00 L341.10 815.00 L341.10 820.00 L341.88 820.00 L341.88 824.00 L342.66 824.00 L342.66 828.00 L343.44 828.00 L343.44 832.00 L344.22 832.00 L344.22 836.00 L345.00 836.00 L345.00 840.00 L346.75 840.00 L346.75 844.00 L348.50 844.00 L348.50 848.00 L352.00 848.00 L352.00 848.67 L355.50 848.67 L355.50 849.33 L359.00 849.33 L359.00 850.00 L361.95 850.00 L361.95 855.00 L364.90 855.00 L364.90 860.00 L366.65 860.00 L366.65 865.00 L368.40 865.00 L368.40 870.00 L373.00 870.00 L373.00 875.00 L376.50 875.00 L376.50 877.50 L380.00 877.50 L380.00 880.00 L384.70 880.00 L384.70 885.00 L387.65 885.00 L387.65 889.00 L390.60 889.00 L390.60 893.00 L395.25 893.00 L395.25 895.00 L399.90 895.00 L399.90 897.00 L402.85 897.00 L402.85 901.00 L405.80 901.00 L405.80 905.00 L409.30 905.00 L409.30 908.50 L412.80 908.50 L412.80 912.00 L417.50 912.00 L417.50 917.50 L424.00 917.50 L424.00 920.50 L435.30 920.50 L435.30 923.30 L441.50 923.30 L441.50 926.10 L464.20 926.10 L464.20 928.90 L473.50 928.90" stroke="#E86969" stroke-width="2.3" fill="none" stroke-linejoin="miter" stroke-linecap="butt"/><path d="M285.70 587.90 L288.00 588.00 L288.35 588.00 L288.35 591.83 L288.70 591.83 L288.70 595.65 L289.05 595.65 L289.05 599.47 L289.40 599.47 L289.40 603.30 L289.66 603.30 L289.66 607.21 L289.91 607.21 L289.91 611.13 L290.17 611.13 L290.17 615.04 L290.43 615.04 L290.43 618.96 L290.69 618.96 L290.69 622.87 L290.94 622.87 L290.94 626.79 L291.20 626.79 L291.20 630.70 L291.50 630.70 L291.50 634.65 L291.80 634.65 L291.80 638.60 L292.10 638.60 L292.10 642.55 L292.40 642.55 L292.40 646.50 L292.70 646.50 L292.70 650.45 L293.00 650.45 L293.00 654.40 L293.38 654.40 L293.38 658.78 L293.76 658.78 L293.76 663.16 L294.14 663.16 L294.14 667.54 L294.52 667.54 L294.52 671.92 L294.90 671.92 L294.90 676.30 L295.44 676.30 L295.44 679.96 L295.98 679.96 L295.98 683.62 L296.52 683.62 L296.52 687.28 L297.06 687.28 L297.06 690.94 L297.60 690.94 L297.60 694.60 L297.96 694.60 L297.96 698.98 L298.32 698.98 L298.32 703.36 L298.68 703.36 L298.68 707.74 L299.04 707.74 L299.04 712.12 L299.40 712.12 L299.40 716.50 L299.59 716.50 L299.59 720.37 L299.78 720.37 L299.78 724.24 L299.97 724.24 L299.97 728.11 L300.16 728.11 L300.16 731.98 L300.35 731.98 L300.35 735.85 L300.54 735.85 L300.54 739.72 L300.73 739.72 L300.73 743.59 L300.92 743.59 L300.92 747.46 L301.11 747.46 L301.11 751.33 L301.30 751.33 L301.30 755.20 L306.10 755.20 L306.10 770.50 L308.25 770.50 L308.25 774.90 L310.40 774.90 L310.40 779.30 L315.50 779.30 L315.75 779.30 L315.75 783.18 L316.00 783.18 L316.00 787.07 L316.25 787.07 L316.25 790.95 L316.50 790.95 L316.50 794.83 L316.75 794.83 L316.75 798.72 L317.00 798.72 L317.00 802.60 L319.20 802.60 L319.20 806.30 L321.40 806.30 L321.40 810.00 L322.10 810.00 L322.10 814.00 L322.80 814.00 L322.80 818.00 L326.40 818.00 L326.40 820.00 L326.97 820.00 L326.97 823.75 L327.55 823.75 L327.55 827.50 L328.12 827.50 L328.12 831.25 L328.70 831.25 L328.70 835.00 L329.57 835.00 L329.57 838.75 L330.45 838.75 L330.45 842.50 L331.32 842.50 L331.32 846.25 L332.20 846.25 L332.20 850.00 L333.95 850.00 L333.95 855.00 L335.70 855.00 L335.70 860.00 L337.45 860.00 L337.45 865.00 L339.20 865.00 L339.20 870.00 L339.97 870.00 L339.97 874.00 L340.73 874.00 L340.73 878.00 L341.50 878.00 L341.50 882.00 L345.00 882.00 L345.00 886.00 L348.50 886.00 L348.50 890.00 L349.70 890.00 L349.70 894.00 L350.90 894.00 L350.90 898.00 L355.00 898.00 L355.00 902.00 L359.10 902.00 L359.10 906.00 L377.70 906.00 L377.70 914.50 L384.70 914.50 L384.70 930.20 L473.50 930.20" stroke="#A0AF28" stroke-width="2.3" fill="none" stroke-linejoin="miter" stroke-linecap="butt"/><path d="M285.70 587.90 L286.50 588.00 L286.70 625.00 L286.70 653.00 L297.60 653.00 L297.60 678.50 L309.20 678.50 L309.50 691.70 L313.40 691.70 L313.40 704.80 L321.40 704.80 L321.40 731.10 L321.63 731.10 L321.63 735.23 L321.87 735.23 L321.87 739.37 L322.10 739.37 L322.10 743.50 L322.33 743.50 L322.33 747.63 L322.57 747.63 L322.57 751.77 L322.80 751.77 L322.80 755.90 L327.70 755.90 L327.70 769.00 L333.10 769.00 L333.10 795.30 L340.40 795.30 L340.40 808.50 L346.20 808.50 L346.20 821.70 L354.40 821.70 L354.40 834.60 L361.90 834.60 L361.90 860.30 L370.30 860.30 L370.30 886.40 L389.90 886.40 L389.90 899.30 L407.60 899.30 L407.60 912.80 L414.00 912.80 L414.00 925.60 L427.40 925.60 L427.40 938.30" stroke="#50D787" stroke-width="2.3" fill="none" stroke-linejoin="miter" stroke-linecap="butt"/><path d="M285.70 587.90 L285.60 610.00 L285.60 622.60 L303.10 622.60 L303.10 657.80 L317.20 657.80 L317.20 692.80 L329.70 692.80 L329.70 727.90 L340.40 727.90 L340.40 763.20 L346.60 763.20 L346.60 798.00 L371.20 798.00 L371.20 833.20 L409.30 833.20 L409.30 868.40 L457.50 868.40 L457.50 903.40 L473.50 903.40" stroke="#55BEF5" stroke-width="2.3" fill="none" stroke-linejoin="miter" stroke-linecap="butt"/><path d="M285.70 587.90 L286.10 588.00 L286.10 617.70 L292.20 617.70 L292.20 637.80 L295.20 637.80 L295.20 667.30 L305.40 667.30 L305.40 697.50 L309.00 697.50 L309.00 718.00 L312.60 718.00 L312.60 728.20 L318.50 728.20 L319.00 728.20 L319.00 732.13 L319.50 732.13 L319.50 736.07 L320.00 736.07 L320.00 740.00 L321.80 740.00 L321.80 743.95 L323.60 743.95 L323.60 747.90 L323.60 757.40 L327.20 757.40 L327.20 768.30 L327.36 768.30 L327.36 772.24 L327.52 772.24 L327.52 776.18 L327.68 776.18 L327.68 780.12 L327.84 780.12 L327.84 784.06 L328.00 784.06 L328.00 788.00 L336.70 788.00 L336.70 796.80 L337.13 796.80 L337.13 801.20 L337.57 801.20 L337.57 805.60 L338.00 805.60 L338.00 810.00 L338.00 828.00 L346.20 828.00 L346.20 847.90 L352.00 847.90 L352.00 867.70 L365.40 867.70 L365.40 878.30 L371.20 878.30 L371.20 897.60 L388.30 897.60 L388.30 918.00 L415.60 918.00 L415.60 928.20 L445.00 928.20 L445.00 938.30" stroke="#E669FA" stroke-width="2.3" fill="none" stroke-linejoin="miter" stroke-linecap="butt"/><path d="M489.20 587.90 L495.50 587.90 L495.50 597.60 L500.80 597.60 L500.80 607.40 L507.10 607.40 L507.10 616.50 L508.30 616.50 L508.30 626.20 L508.90 645.00 L512.60 645.00 L512.60 645.70 L512.60 656.00 L514.20 656.00 L514.20 665.10 L515.90 665.10 L515.90 685.20 L519.90 685.20 L520.23 685.20 L520.23 688.90 L520.55 688.90 L520.55 692.60 L520.88 692.60 L520.88 696.30 L521.20 696.30 L521.20 700.00 L521.20 714.10 L528.50 714.10 L528.50 733.50 L531.40 733.50 L531.40 744.00 L533.60 744.00 L533.60 753.00 L543.10 753.00 L543.10 763.70 L543.80 763.70 L543.80 773.20 L545.00 773.20 L545.00 782.30 L553.30 782.30 L553.30 792.20 L557.70 792.20 L557.70 801.00 L559.90 801.00 L560.77 801.00 L560.77 804.50 L561.65 804.50 L561.65 808.00 L562.52 808.00 L562.52 811.50 L563.40 811.50 L563.40 815.00 L563.40 830.00 L565.85 830.00 L565.85 835.00 L568.30 835.00 L568.30 840.00 L568.30 860.80 L575.00 860.80 L575.00 870.20 L582.50 870.20 L582.50 880.70 L589.40 880.70 L589.40 899.30 L593.10 899.30 L593.10 909.20 L598.10 909.20 L598.10 919.10 L600.60 919.10 L600.60 928.60 L609.80 928.60 L609.80 938.30" stroke="#E86969" stroke-width="2.3" fill="none" stroke-linejoin="miter" stroke-linecap="butt"/><path d="M489.20 587.90 L513.80 587.90 L513.80 614.70 L518.70 614.70 L518.70 640.80 L519.30 668.80 L519.54 668.80 L519.54 673.04 L519.78 673.04 L519.78 677.28 L520.02 677.28 L520.02 681.52 L520.26 681.52 L520.26 685.76 L520.50 685.76 L520.50 690.00 L520.50 695.50 L530.70 695.50 L530.70 722.40 L534.70 722.40 L534.70 749.60 L549.90 749.60 L549.90 777.20 L554.00 777.20 L554.25 777.20 L554.25 781.40 L554.50 781.40 L554.50 785.60 L554.75 785.60 L554.75 789.80 L555.00 789.80 L555.00 794.00 L555.25 794.00 L555.25 798.20 L555.50 798.20 L555.50 802.40 L562.10 802.40 L562.10 831.00 L567.10 831.00 L567.10 858.30 L569.60 858.30 L569.60 884.40 L590.70 884.40 L590.70 911.70 L602.30 911.70 L602.30 938.30" stroke="#A0AF28" stroke-width="2.3" fill="none" stroke-linejoin="miter" stroke-linecap="butt"/><path d="M489.20 587.90 L510.10 587.90 L510.10 657.80 L546.00 657.80 L546.00 728.20 L556.20 728.20 L556.20 798.00 L611.30 798.00 L611.30 867.80 L639.10 867.80 L639.10 938.30" stroke="#50D787" stroke-width="2.3" fill="none" stroke-linejoin="miter" stroke-linecap="butt"/><path d="M489.20 587.90 L525.30 587.90 L525.30 626.80 L531.30 626.80 L531.40 704.30 L554.70 704.30 L555.30 742.60 L555.30 821.90 L560.90 821.90 L560.90 860.30 L569.10 860.30 L569.10 899.30 L572.80 899.30 L572.80 938.30" stroke="#55BEF5" stroke-width="2.3" fill="none" stroke-linejoin="miter" stroke-linecap="butt"/><path d="M489.20 587.90 L493.70 587.90 L493.70 637.70 L522.50 637.70 L522.50 737.40 L525.60 737.40 L525.65 737.40 L525.65 741.33 L525.69 741.33 L525.69 745.26 L525.74 745.26 L525.74 749.19 L525.78 749.19 L525.78 753.12 L525.83 753.12 L525.83 757.05 L525.88 757.05 L525.88 760.98 L525.92 760.98 L525.92 764.92 L525.97 764.92 L525.97 768.85 L526.02 768.85 L526.02 772.78 L526.06 772.78 L526.06 776.71 L526.11 776.71 L526.11 780.64 L526.15 780.64 L526.15 784.57 L526.20 784.57 L526.20 788.50 L526.20 838.00 L559.10 838.00 L559.10 888.10 L562.60 888.10 L562.60 938.30" stroke="#E669FA" stroke-width="2.3" fill="none" stroke-linejoin="miter" stroke-linecap="butt"/><path d="M74.0 570.4V955.8H270.5" stroke="#222" stroke-width="1.6" fill="none"/><text x="82.80" y="968.9" font-size="10" fill="#4d4d4d" text-anchor="middle">0</text><text x="105.16" y="968.9" font-size="10" fill="#4d4d4d" text-anchor="middle">25</text><text x="127.53" y="968.9" font-size="10" fill="#4d4d4d" text-anchor="middle">50</text><text x="149.89" y="968.9" font-size="10" fill="#4d4d4d" text-anchor="middle">75</text><text x="172.25" y="968.9" font-size="10" fill="#4d4d4d" text-anchor="middle">100</text><text x="194.61" y="968.9" font-size="10" fill="#4d4d4d" text-anchor="middle">125</text><text x="216.97" y="968.9" font-size="10" fill="#4d4d4d" text-anchor="middle">150</text><text x="239.34" y="968.9" font-size="10" fill="#4d4d4d" text-anchor="middle">175</text><text x="261.70" y="968.9" font-size="10" fill="#4d4d4d" text-anchor="middle">200</text><text x="68.7" y="942.30" font-size="10" fill="#4d4d4d" text-anchor="end">0.00</text><text x="68.7" y="854.70" font-size="10" fill="#4d4d4d" text-anchor="end">0.25</text><text x="68.7" y="767.10" font-size="10" fill="#4d4d4d" text-anchor="end">0.50</text><text x="68.7" y="679.50" font-size="10" fill="#4d4d4d" text-anchor="end">0.75</text><text x="68.7" y="591.90" font-size="10" fill="#4d4d4d" text-anchor="end">1.00</text><path d="M82.80 955.8V959.0M105.16 955.8V959.0M127.53 955.8V959.0M149.89 955.8V959.0M172.25 955.8V959.0M194.61 955.8V959.0M216.97 955.8V959.0M239.34 955.8V959.0M261.70 955.8V959.0M70.8 938.30H74.0M70.8 850.70H74.0M70.8 763.10H74.0M70.8 675.50H74.0M70.8 587.90H74.0" stroke="#222" stroke-width="1.6" fill="none"/><path d="M276.5 955.8H473.8" stroke="#222" stroke-width="1.6" fill="none"/><text x="286.00" y="968.9" font-size="10" fill="#4d4d4d" text-anchor="middle">0</text><text x="308.36" y="968.9" font-size="10" fill="#4d4d4d" text-anchor="middle">25</text><text x="330.73" y="968.9" font-size="10" fill="#4d4d4d" text-anchor="middle">50</text><text x="353.09" y="968.9" font-size="10" fill="#4d4d4d" text-anchor="middle">75</text><text x="375.45" y="968.9" font-size="10" fill="#4d4d4d" text-anchor="middle">100</text><text x="397.81" y="968.9" font-size="10" fill="#4d4d4d" text-anchor="middle">125</text><text x="420.17" y="968.9" font-size="10" fill="#4d4d4d" text-anchor="middle">150</text><text x="442.54" y="968.9" font-size="10" fill="#4d4d4d" text-anchor="middle">175</text><text x="464.90" y="968.9" font-size="10" fill="#4d4d4d" text-anchor="middle">200</text><path d="M286.00 955.8V959.0M308.36 955.8V959.0M330.73 955.8V959.0M353.09 955.8V959.0M375.45 955.8V959.0M397.81 955.8V959.0M420.17 955.8V959.0M442.54 955.8V959.0M464.90 955.8V959.0" stroke="#222" stroke-width="1.6" fill="none"/><path d="M480.0 955.8H677.3" stroke="#222" stroke-width="1.6" fill="none"/><text x="489.30" y="968.9" font-size="10" fill="#4d4d4d" text-anchor="middle">0</text><text x="511.66" y="968.9" font-size="10" fill="#4d4d4d" text-anchor="middle">25</text><text x="534.02" y="968.9" font-size="10" fill="#4d4d4d" text-anchor="middle">50</text><text x="556.39" y="968.9" font-size="10" fill="#4d4d4d" text-anchor="middle">75</text><text x="578.75" y="968.9" font-size="10" fill="#4d4d4d" text-anchor="middle">100</text><text x="601.11" y="968.9" font-size="10" fill="#4d4d4d" text-anchor="middle">125</text><text x="623.48" y="968.9" font-size="10" fill="#4d4d4d" text-anchor="middle">150</text><text x="645.84" y="968.9" font-size="10" fill="#4d4d4d" text-anchor="middle">175</text><text x="668.20" y="968.9" font-size="10" fill="#4d4d4d" text-anchor="middle">200</text><path d="M489.30 955.8V959.0M511.66 955.8V959.0M534.02 955.8V959.0M556.39 955.8V959.0M578.75 955.8V959.0M601.11 955.8V959.0M623.48 955.8V959.0M645.84 955.8V959.0M668.20 955.8V959.0" stroke="#222" stroke-width="1.6" fill="none"/><text x="376" y="982.7" font-size="12.35" fill="#000" class="t" text-anchor="middle">Time (months)</text><text transform="translate(42.7 763) rotate(-90)" font-size="12.35" fill="#000" class="tr" text-anchor="middle">Survival probability</text></svg>
</body></html>
